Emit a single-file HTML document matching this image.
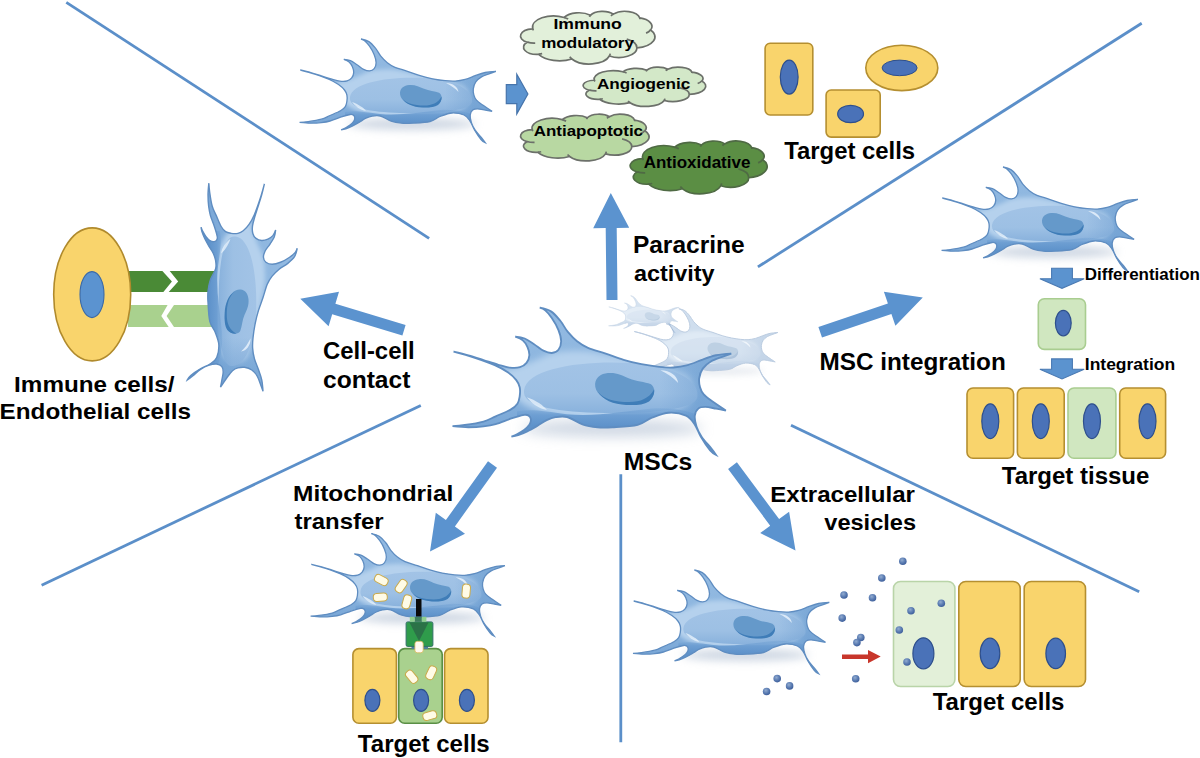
<!DOCTYPE html>
<html><head><meta charset="utf-8"><style>html,body{margin:0;padding:0;background:#fff;overflow:hidden}svg{display:block}</style></head>
<body><svg width="1200" height="758" viewBox="0 0 1200 758">
<defs><filter id="blur6" x="-50%" y="-200%" width="200%" height="500%"><feGaussianBlur stdDeviation="6"/></filter><filter id="desat"><feColorMatrix type="saturate" values="0.85"/></filter><filter id="blur5" x="-50%" y="-300%" width="200%" height="700%"><feGaussianBlur stdDeviation="4.5"/></filter><filter id="blur2" x="-50%" y="-50%" width="200%" height="200%"><feGaussianBlur stdDeviation="1.5"/></filter><linearGradient id="bg2" gradientUnits="userSpaceOnUse" x1="0" y1="104" x2="0" y2="122"><stop offset="0" stop-color="#8ab3dd" stop-opacity="0"/><stop offset="0.6" stop-color="#6d9ed2"/><stop offset="1" stop-color="#5f93cb"/></linearGradient><linearGradient id="ig2" gradientUnits="userSpaceOnUse" x1="0" y1="78" x2="0" y2="114"><stop offset="0" stop-color="#a2c3e6"/><stop offset="0.6" stop-color="#9dc0e4"/><stop offset="1" stop-color="#88b1dc"/></linearGradient><linearGradient id="rg" gradientUnits="userSpaceOnUse" x1="445" y1="0" x2="475" y2="0"><stop offset="0" stop-color="#6396cc" stop-opacity="0"/><stop offset="1" stop-color="#6396cc" stop-opacity="0.4"/></linearGradient><clipPath id="cclip"><path d="M300.3,70.0 C300.3,70.0 307.3,71.6 310.8,72.6 C314.3,73.6 317.9,74.8 321.4,75.9 C324.9,77.0 328.8,78.3 331.9,79.2 C335.0,80.1 337.4,80.9 339.9,81.2 C342.4,81.5 345.1,81.5 347.1,80.9 C349.1,80.4 350.6,79.3 351.7,77.9 C352.8,76.5 353.6,74.5 353.7,72.6 C353.8,70.7 353.2,68.5 352.4,66.7 C351.6,64.9 350.5,63.2 349.1,62.0 C347.7,60.8 343.8,59.4 343.8,59.4 C343.8,59.4 348.2,59.8 350.4,60.7 C352.6,61.6 354.8,63.3 357.0,64.7 C359.2,66.1 361.5,68.3 363.6,69.3 C365.7,70.3 367.7,71.0 369.5,70.9 C371.3,70.8 373.1,70.0 374.2,68.6 C375.3,67.2 376.1,65.0 376.1,62.7 C376.1,60.4 375.3,57.5 374.2,54.8 C373.1,52.0 371.1,48.5 369.5,46.2 C367.9,43.9 366.3,42.1 364.9,40.9 C363.5,39.7 361.0,39.0 361.0,39.0 C361.0,39.0 366.5,40.1 368.9,41.6 C371.3,43.1 373.5,45.8 375.5,48.2 C377.5,50.6 378.8,53.7 380.8,56.1 C382.8,58.5 384.9,60.8 387.3,62.7 C389.7,64.6 391.6,65.9 395.0,67.3 C398.4,68.7 403.3,69.9 407.5,71.3 C411.7,72.7 415.9,74.5 420.1,75.7 C424.3,77.0 428.4,78.0 432.6,78.8 C436.8,79.6 441.3,80.3 445.1,80.7 C448.9,81.1 451.9,81.3 455.2,81.1 C458.5,80.9 461.9,80.3 465.2,79.4 C468.5,78.5 471.9,76.9 475.2,75.7 C478.5,74.5 481.8,73.2 485.2,72.5 C488.6,71.8 495.9,71.3 495.9,71.3 C495.9,71.3 491.4,72.9 489.0,73.8 C486.6,74.7 483.7,75.6 481.5,76.9 C479.3,78.2 477.2,79.9 475.8,81.9 C474.4,83.9 473.6,86.6 473.3,88.8 C473.0,91.0 473.4,93.2 473.9,95.1 C474.4,97.0 475.0,98.4 476.5,100.1 C478.0,101.8 480.1,103.2 482.7,105.1 C485.3,107.0 492.1,111.4 492.1,111.4 C492.1,111.4 487.6,110.5 485.2,110.1 C482.8,109.7 479.8,108.9 477.7,108.9 C475.6,108.9 473.9,109.0 472.7,110.1 C471.4,111.1 470.4,113.1 470.2,115.2 C470.0,117.3 470.6,120.2 471.4,122.7 C472.2,125.2 473.5,127.7 475.2,130.2 C476.9,132.7 479.8,135.6 481.5,137.7 C483.2,139.8 485.2,142.7 485.2,142.7 C485.2,142.7 482.8,141.6 481.0,139.5 C479.2,137.4 476.3,133.1 474.5,130.0 C472.7,126.9 471.8,123.5 470.0,121.0 C468.2,118.5 467.0,116.3 464.0,115.0 C461.0,113.7 456.0,112.8 452.0,113.0 C448.0,113.2 443.7,115.1 440.0,116.5 C436.3,117.9 434.6,120.4 430.0,121.5 C425.4,122.6 416.9,122.9 412.2,123.2 C407.5,123.5 405.2,123.6 401.7,123.2 C398.2,122.8 394.7,122.3 391.1,121.1 C387.5,119.9 383.5,116.8 380.3,116.0 C377.1,115.2 374.6,115.7 372.2,116.1 C369.8,116.5 368.1,117.2 365.9,118.2 C363.7,119.2 361.3,121.1 359.0,122.4 C356.7,123.7 354.4,125.0 352.2,126.1 C350.0,127.2 347.6,128.2 345.8,128.8 C344.0,129.4 341.1,129.8 341.1,129.8 C341.1,129.8 343.8,128.8 345.3,128.0 C346.8,127.2 348.6,126.2 350.0,125.1 C351.4,124.0 352.9,122.6 353.7,121.4 C354.5,120.2 354.9,118.8 354.8,117.7 C354.7,116.6 354.0,115.5 353.2,115.0 C352.4,114.5 352.1,114.1 350.0,114.5 C347.9,114.9 343.8,116.1 340.5,117.2 C337.2,118.3 333.2,120.1 330.0,121.0 C326.8,121.9 324.6,122.2 321.4,122.6 C318.2,123.0 314.4,123.2 310.8,123.2 C307.2,123.2 299.6,122.4 299.6,122.4 C299.6,122.4 304.6,122.1 308.2,121.6 C311.8,121.1 317.8,120.2 321.4,119.2 C325.0,118.2 326.8,116.9 330.0,115.5 C333.2,114.1 337.9,112.3 340.5,110.8 C343.1,109.3 344.2,108.2 345.3,106.6 C346.4,105.0 346.6,103.2 346.9,101.3 C347.2,99.4 347.3,96.9 346.9,95.0 C346.5,93.1 345.9,91.8 344.5,90.0 C343.1,88.2 341.0,86.2 338.5,84.5 C336.0,82.8 333.2,81.2 329.3,79.5 C325.4,77.8 319.6,75.8 314.8,74.2 C310.0,72.6 300.3,70.0 300.3,70.0Z"/></clipPath><filter id="soft3" x="-20%" y="-20%" width="140%" height="140%"><feGaussianBlur stdDeviation="2.2"/></filter><linearGradient id="cg" gradientUnits="userSpaceOnUse" x1="0" y1="40" x2="0" y2="142"><stop offset="0" stop-color="#93bae2"/><stop offset="0.5" stop-color="#8cb5de"/><stop offset="1" stop-color="#6f9fd3"/></linearGradient></defs><rect width="1200" height="758" fill="#fff"/><line x1="66.3" y1="2.3" x2="429.1" y2="238.3" stroke="#5b8fc9" stroke-width="2.8"/><line x1="757.9" y1="266.9" x2="1141.7" y2="23.2" stroke="#5b8fc9" stroke-width="2.8"/><line x1="41.6" y1="585.3" x2="420.8" y2="405.4" stroke="#5b8fc9" stroke-width="2.8"/><line x1="620.8" y1="474.2" x2="620.8" y2="742.3" stroke="#5b8fc9" stroke-width="2.8"/><line x1="791" y1="425.2" x2="1139.2" y2="591.7" stroke="#5b8fc9" stroke-width="2.8"/><g transform="translate(300,70) scale(1.0) translate(-300,-70)" opacity="1.0"><ellipse cx="412" cy="124" rx="64" ry="6" fill="#9fb0c8" opacity="0.5" filter="url(#blur5)"/><g><path d="M300.3,70.0 C300.3,70.0 307.3,71.6 310.8,72.6 C314.3,73.6 317.9,74.8 321.4,75.9 C324.9,77.0 328.8,78.3 331.9,79.2 C335.0,80.1 337.4,80.9 339.9,81.2 C342.4,81.5 345.1,81.5 347.1,80.9 C349.1,80.4 350.6,79.3 351.7,77.9 C352.8,76.5 353.6,74.5 353.7,72.6 C353.8,70.7 353.2,68.5 352.4,66.7 C351.6,64.9 350.5,63.2 349.1,62.0 C347.7,60.8 343.8,59.4 343.8,59.4 C343.8,59.4 348.2,59.8 350.4,60.7 C352.6,61.6 354.8,63.3 357.0,64.7 C359.2,66.1 361.5,68.3 363.6,69.3 C365.7,70.3 367.7,71.0 369.5,70.9 C371.3,70.8 373.1,70.0 374.2,68.6 C375.3,67.2 376.1,65.0 376.1,62.7 C376.1,60.4 375.3,57.5 374.2,54.8 C373.1,52.0 371.1,48.5 369.5,46.2 C367.9,43.9 366.3,42.1 364.9,40.9 C363.5,39.7 361.0,39.0 361.0,39.0 C361.0,39.0 366.5,40.1 368.9,41.6 C371.3,43.1 373.5,45.8 375.5,48.2 C377.5,50.6 378.8,53.7 380.8,56.1 C382.8,58.5 384.9,60.8 387.3,62.7 C389.7,64.6 391.6,65.9 395.0,67.3 C398.4,68.7 403.3,69.9 407.5,71.3 C411.7,72.7 415.9,74.5 420.1,75.7 C424.3,77.0 428.4,78.0 432.6,78.8 C436.8,79.6 441.3,80.3 445.1,80.7 C448.9,81.1 451.9,81.3 455.2,81.1 C458.5,80.9 461.9,80.3 465.2,79.4 C468.5,78.5 471.9,76.9 475.2,75.7 C478.5,74.5 481.8,73.2 485.2,72.5 C488.6,71.8 495.9,71.3 495.9,71.3 C495.9,71.3 491.4,72.9 489.0,73.8 C486.6,74.7 483.7,75.6 481.5,76.9 C479.3,78.2 477.2,79.9 475.8,81.9 C474.4,83.9 473.6,86.6 473.3,88.8 C473.0,91.0 473.4,93.2 473.9,95.1 C474.4,97.0 475.0,98.4 476.5,100.1 C478.0,101.8 480.1,103.2 482.7,105.1 C485.3,107.0 492.1,111.4 492.1,111.4 C492.1,111.4 487.6,110.5 485.2,110.1 C482.8,109.7 479.8,108.9 477.7,108.9 C475.6,108.9 473.9,109.0 472.7,110.1 C471.4,111.1 470.4,113.1 470.2,115.2 C470.0,117.3 470.6,120.2 471.4,122.7 C472.2,125.2 473.5,127.7 475.2,130.2 C476.9,132.7 479.8,135.6 481.5,137.7 C483.2,139.8 485.2,142.7 485.2,142.7 C485.2,142.7 482.8,141.6 481.0,139.5 C479.2,137.4 476.3,133.1 474.5,130.0 C472.7,126.9 471.8,123.5 470.0,121.0 C468.2,118.5 467.0,116.3 464.0,115.0 C461.0,113.7 456.0,112.8 452.0,113.0 C448.0,113.2 443.7,115.1 440.0,116.5 C436.3,117.9 434.6,120.4 430.0,121.5 C425.4,122.6 416.9,122.9 412.2,123.2 C407.5,123.5 405.2,123.6 401.7,123.2 C398.2,122.8 394.7,122.3 391.1,121.1 C387.5,119.9 383.5,116.8 380.3,116.0 C377.1,115.2 374.6,115.7 372.2,116.1 C369.8,116.5 368.1,117.2 365.9,118.2 C363.7,119.2 361.3,121.1 359.0,122.4 C356.7,123.7 354.4,125.0 352.2,126.1 C350.0,127.2 347.6,128.2 345.8,128.8 C344.0,129.4 341.1,129.8 341.1,129.8 C341.1,129.8 343.8,128.8 345.3,128.0 C346.8,127.2 348.6,126.2 350.0,125.1 C351.4,124.0 352.9,122.6 353.7,121.4 C354.5,120.2 354.9,118.8 354.8,117.7 C354.7,116.6 354.0,115.5 353.2,115.0 C352.4,114.5 352.1,114.1 350.0,114.5 C347.9,114.9 343.8,116.1 340.5,117.2 C337.2,118.3 333.2,120.1 330.0,121.0 C326.8,121.9 324.6,122.2 321.4,122.6 C318.2,123.0 314.4,123.2 310.8,123.2 C307.2,123.2 299.6,122.4 299.6,122.4 C299.6,122.4 304.6,122.1 308.2,121.6 C311.8,121.1 317.8,120.2 321.4,119.2 C325.0,118.2 326.8,116.9 330.0,115.5 C333.2,114.1 337.9,112.3 340.5,110.8 C343.1,109.3 344.2,108.2 345.3,106.6 C346.4,105.0 346.6,103.2 346.9,101.3 C347.2,99.4 347.3,96.9 346.9,95.0 C346.5,93.1 345.9,91.8 344.5,90.0 C343.1,88.2 341.0,86.2 338.5,84.5 C336.0,82.8 333.2,81.2 329.3,79.5 C325.4,77.8 319.6,75.8 314.8,74.2 C310.0,72.6 300.3,70.0 300.3,70.0Z" fill="url(#cg)"/><g clip-path="url(#cclip)"><path d="M336,83 C348,81 358,76 368,71.5 C378,69 392,68.5 402,71 C422,75 445,80 462,84.5 C472,89 471,101 465,108 C450,114 430,118 400,118 C375,117 356,112 348,106 C342,99 333,90 336,83Z" fill="#b5d1ed" filter="url(#soft3)"/><path d="M350,97 C352,82 390,76 425,78 C455,80 474,90 472,102 C470,112 430,114 400,113 C370,112 348,108 350,97Z" fill="url(#ig2)"/><path d="M345,112 C355,110 365,112 380,114 C400,116 420,112 440,110 C455,109 470,112 480,118 L480,135 L345,135Z" fill="url(#bg2)"/><rect x="440" y="60" width="60" height="90" fill="url(#rg)"/><path d="M446,83 C453,83 458,87 458.5,92 C455.5,88.5 451,85.5 446,83Z" fill="#e6f1fb" opacity="0.85"/><path d="M352,102 C358,104 364,108 366,111 C360,110 355,106 352,102Z" fill="#e6f1fb" opacity="0.8"/></g><path d="M300.3,70.0 C300.3,70.0 307.3,71.6 310.8,72.6 C314.3,73.6 317.9,74.8 321.4,75.9 C324.9,77.0 328.8,78.3 331.9,79.2 C335.0,80.1 337.4,80.9 339.9,81.2 C342.4,81.5 345.1,81.5 347.1,80.9 C349.1,80.4 350.6,79.3 351.7,77.9 C352.8,76.5 353.6,74.5 353.7,72.6 C353.8,70.7 353.2,68.5 352.4,66.7 C351.6,64.9 350.5,63.2 349.1,62.0 C347.7,60.8 343.8,59.4 343.8,59.4 C343.8,59.4 348.2,59.8 350.4,60.7 C352.6,61.6 354.8,63.3 357.0,64.7 C359.2,66.1 361.5,68.3 363.6,69.3 C365.7,70.3 367.7,71.0 369.5,70.9 C371.3,70.8 373.1,70.0 374.2,68.6 C375.3,67.2 376.1,65.0 376.1,62.7 C376.1,60.4 375.3,57.5 374.2,54.8 C373.1,52.0 371.1,48.5 369.5,46.2 C367.9,43.9 366.3,42.1 364.9,40.9 C363.5,39.7 361.0,39.0 361.0,39.0 C361.0,39.0 366.5,40.1 368.9,41.6 C371.3,43.1 373.5,45.8 375.5,48.2 C377.5,50.6 378.8,53.7 380.8,56.1 C382.8,58.5 384.9,60.8 387.3,62.7 C389.7,64.6 391.6,65.9 395.0,67.3 C398.4,68.7 403.3,69.9 407.5,71.3 C411.7,72.7 415.9,74.5 420.1,75.7 C424.3,77.0 428.4,78.0 432.6,78.8 C436.8,79.6 441.3,80.3 445.1,80.7 C448.9,81.1 451.9,81.3 455.2,81.1 C458.5,80.9 461.9,80.3 465.2,79.4 C468.5,78.5 471.9,76.9 475.2,75.7 C478.5,74.5 481.8,73.2 485.2,72.5 C488.6,71.8 495.9,71.3 495.9,71.3 C495.9,71.3 491.4,72.9 489.0,73.8 C486.6,74.7 483.7,75.6 481.5,76.9 C479.3,78.2 477.2,79.9 475.8,81.9 C474.4,83.9 473.6,86.6 473.3,88.8 C473.0,91.0 473.4,93.2 473.9,95.1 C474.4,97.0 475.0,98.4 476.5,100.1 C478.0,101.8 480.1,103.2 482.7,105.1 C485.3,107.0 492.1,111.4 492.1,111.4 C492.1,111.4 487.6,110.5 485.2,110.1 C482.8,109.7 479.8,108.9 477.7,108.9 C475.6,108.9 473.9,109.0 472.7,110.1 C471.4,111.1 470.4,113.1 470.2,115.2 C470.0,117.3 470.6,120.2 471.4,122.7 C472.2,125.2 473.5,127.7 475.2,130.2 C476.9,132.7 479.8,135.6 481.5,137.7 C483.2,139.8 485.2,142.7 485.2,142.7 C485.2,142.7 482.8,141.6 481.0,139.5 C479.2,137.4 476.3,133.1 474.5,130.0 C472.7,126.9 471.8,123.5 470.0,121.0 C468.2,118.5 467.0,116.3 464.0,115.0 C461.0,113.7 456.0,112.8 452.0,113.0 C448.0,113.2 443.7,115.1 440.0,116.5 C436.3,117.9 434.6,120.4 430.0,121.5 C425.4,122.6 416.9,122.9 412.2,123.2 C407.5,123.5 405.2,123.6 401.7,123.2 C398.2,122.8 394.7,122.3 391.1,121.1 C387.5,119.9 383.5,116.8 380.3,116.0 C377.1,115.2 374.6,115.7 372.2,116.1 C369.8,116.5 368.1,117.2 365.9,118.2 C363.7,119.2 361.3,121.1 359.0,122.4 C356.7,123.7 354.4,125.0 352.2,126.1 C350.0,127.2 347.6,128.2 345.8,128.8 C344.0,129.4 341.1,129.8 341.1,129.8 C341.1,129.8 343.8,128.8 345.3,128.0 C346.8,127.2 348.6,126.2 350.0,125.1 C351.4,124.0 352.9,122.6 353.7,121.4 C354.5,120.2 354.9,118.8 354.8,117.7 C354.7,116.6 354.0,115.5 353.2,115.0 C352.4,114.5 352.1,114.1 350.0,114.5 C347.9,114.9 343.8,116.1 340.5,117.2 C337.2,118.3 333.2,120.1 330.0,121.0 C326.8,121.9 324.6,122.2 321.4,122.6 C318.2,123.0 314.4,123.2 310.8,123.2 C307.2,123.2 299.6,122.4 299.6,122.4 C299.6,122.4 304.6,122.1 308.2,121.6 C311.8,121.1 317.8,120.2 321.4,119.2 C325.0,118.2 326.8,116.9 330.0,115.5 C333.2,114.1 337.9,112.3 340.5,110.8 C343.1,109.3 344.2,108.2 345.3,106.6 C346.4,105.0 346.6,103.2 346.9,101.3 C347.2,99.4 347.3,96.9 346.9,95.0 C346.5,93.1 345.9,91.8 344.5,90.0 C343.1,88.2 341.0,86.2 338.5,84.5 C336.0,82.8 333.2,81.2 329.3,79.5 C325.4,77.8 319.6,75.8 314.8,74.2 C310.0,72.6 300.3,70.0 300.3,70.0Z" fill="none" stroke="#5f8dc1" stroke-width="1.3"/><path d="M400,92.6 C400.5,88 404,85.5 409,85 C415,84.5 419,86.5 424,88.8 C429,91 435,91 439,92.8 C442,94.5 442.5,99 440,102.5 C436.5,106.5 430,107.5 424,107.2 C416,106.8 408,104.5 403.5,100.5 C401,98.3 399.8,95.5 400,92.6Z" fill="#6599ca"/><path d="M402,98 C406,103.5 414,105.5 424,105.5 C432,105.5 438,103 441.6,96.5 C442,100 440.5,103 438,105 C434,107.5 428,107.8 422,107.5 C413,107 405,104 402,98Z" fill="#3f7db8"/></g></g><g transform="translate(942,198) scale(1.0) translate(-300,-70)" opacity="1.0"><ellipse cx="412" cy="124" rx="64" ry="6" fill="#9fb0c8" opacity="0.5" filter="url(#blur5)"/><g><path d="M300.3,70.0 C300.3,70.0 307.3,71.6 310.8,72.6 C314.3,73.6 317.9,74.8 321.4,75.9 C324.9,77.0 328.8,78.3 331.9,79.2 C335.0,80.1 337.4,80.9 339.9,81.2 C342.4,81.5 345.1,81.5 347.1,80.9 C349.1,80.4 350.6,79.3 351.7,77.9 C352.8,76.5 353.6,74.5 353.7,72.6 C353.8,70.7 353.2,68.5 352.4,66.7 C351.6,64.9 350.5,63.2 349.1,62.0 C347.7,60.8 343.8,59.4 343.8,59.4 C343.8,59.4 348.2,59.8 350.4,60.7 C352.6,61.6 354.8,63.3 357.0,64.7 C359.2,66.1 361.5,68.3 363.6,69.3 C365.7,70.3 367.7,71.0 369.5,70.9 C371.3,70.8 373.1,70.0 374.2,68.6 C375.3,67.2 376.1,65.0 376.1,62.7 C376.1,60.4 375.3,57.5 374.2,54.8 C373.1,52.0 371.1,48.5 369.5,46.2 C367.9,43.9 366.3,42.1 364.9,40.9 C363.5,39.7 361.0,39.0 361.0,39.0 C361.0,39.0 366.5,40.1 368.9,41.6 C371.3,43.1 373.5,45.8 375.5,48.2 C377.5,50.6 378.8,53.7 380.8,56.1 C382.8,58.5 384.9,60.8 387.3,62.7 C389.7,64.6 391.6,65.9 395.0,67.3 C398.4,68.7 403.3,69.9 407.5,71.3 C411.7,72.7 415.9,74.5 420.1,75.7 C424.3,77.0 428.4,78.0 432.6,78.8 C436.8,79.6 441.3,80.3 445.1,80.7 C448.9,81.1 451.9,81.3 455.2,81.1 C458.5,80.9 461.9,80.3 465.2,79.4 C468.5,78.5 471.9,76.9 475.2,75.7 C478.5,74.5 481.8,73.2 485.2,72.5 C488.6,71.8 495.9,71.3 495.9,71.3 C495.9,71.3 491.4,72.9 489.0,73.8 C486.6,74.7 483.7,75.6 481.5,76.9 C479.3,78.2 477.2,79.9 475.8,81.9 C474.4,83.9 473.6,86.6 473.3,88.8 C473.0,91.0 473.4,93.2 473.9,95.1 C474.4,97.0 475.0,98.4 476.5,100.1 C478.0,101.8 480.1,103.2 482.7,105.1 C485.3,107.0 492.1,111.4 492.1,111.4 C492.1,111.4 487.6,110.5 485.2,110.1 C482.8,109.7 479.8,108.9 477.7,108.9 C475.6,108.9 473.9,109.0 472.7,110.1 C471.4,111.1 470.4,113.1 470.2,115.2 C470.0,117.3 470.6,120.2 471.4,122.7 C472.2,125.2 473.5,127.7 475.2,130.2 C476.9,132.7 479.8,135.6 481.5,137.7 C483.2,139.8 485.2,142.7 485.2,142.7 C485.2,142.7 482.8,141.6 481.0,139.5 C479.2,137.4 476.3,133.1 474.5,130.0 C472.7,126.9 471.8,123.5 470.0,121.0 C468.2,118.5 467.0,116.3 464.0,115.0 C461.0,113.7 456.0,112.8 452.0,113.0 C448.0,113.2 443.7,115.1 440.0,116.5 C436.3,117.9 434.6,120.4 430.0,121.5 C425.4,122.6 416.9,122.9 412.2,123.2 C407.5,123.5 405.2,123.6 401.7,123.2 C398.2,122.8 394.7,122.3 391.1,121.1 C387.5,119.9 383.5,116.8 380.3,116.0 C377.1,115.2 374.6,115.7 372.2,116.1 C369.8,116.5 368.1,117.2 365.9,118.2 C363.7,119.2 361.3,121.1 359.0,122.4 C356.7,123.7 354.4,125.0 352.2,126.1 C350.0,127.2 347.6,128.2 345.8,128.8 C344.0,129.4 341.1,129.8 341.1,129.8 C341.1,129.8 343.8,128.8 345.3,128.0 C346.8,127.2 348.6,126.2 350.0,125.1 C351.4,124.0 352.9,122.6 353.7,121.4 C354.5,120.2 354.9,118.8 354.8,117.7 C354.7,116.6 354.0,115.5 353.2,115.0 C352.4,114.5 352.1,114.1 350.0,114.5 C347.9,114.9 343.8,116.1 340.5,117.2 C337.2,118.3 333.2,120.1 330.0,121.0 C326.8,121.9 324.6,122.2 321.4,122.6 C318.2,123.0 314.4,123.2 310.8,123.2 C307.2,123.2 299.6,122.4 299.6,122.4 C299.6,122.4 304.6,122.1 308.2,121.6 C311.8,121.1 317.8,120.2 321.4,119.2 C325.0,118.2 326.8,116.9 330.0,115.5 C333.2,114.1 337.9,112.3 340.5,110.8 C343.1,109.3 344.2,108.2 345.3,106.6 C346.4,105.0 346.6,103.2 346.9,101.3 C347.2,99.4 347.3,96.9 346.9,95.0 C346.5,93.1 345.9,91.8 344.5,90.0 C343.1,88.2 341.0,86.2 338.5,84.5 C336.0,82.8 333.2,81.2 329.3,79.5 C325.4,77.8 319.6,75.8 314.8,74.2 C310.0,72.6 300.3,70.0 300.3,70.0Z" fill="url(#cg)"/><g clip-path="url(#cclip)"><path d="M336,83 C348,81 358,76 368,71.5 C378,69 392,68.5 402,71 C422,75 445,80 462,84.5 C472,89 471,101 465,108 C450,114 430,118 400,118 C375,117 356,112 348,106 C342,99 333,90 336,83Z" fill="#b5d1ed" filter="url(#soft3)"/><path d="M350,97 C352,82 390,76 425,78 C455,80 474,90 472,102 C470,112 430,114 400,113 C370,112 348,108 350,97Z" fill="url(#ig2)"/><path d="M345,112 C355,110 365,112 380,114 C400,116 420,112 440,110 C455,109 470,112 480,118 L480,135 L345,135Z" fill="url(#bg2)"/><rect x="440" y="60" width="60" height="90" fill="url(#rg)"/><path d="M446,83 C453,83 458,87 458.5,92 C455.5,88.5 451,85.5 446,83Z" fill="#e6f1fb" opacity="0.85"/><path d="M352,102 C358,104 364,108 366,111 C360,110 355,106 352,102Z" fill="#e6f1fb" opacity="0.8"/></g><path d="M300.3,70.0 C300.3,70.0 307.3,71.6 310.8,72.6 C314.3,73.6 317.9,74.8 321.4,75.9 C324.9,77.0 328.8,78.3 331.9,79.2 C335.0,80.1 337.4,80.9 339.9,81.2 C342.4,81.5 345.1,81.5 347.1,80.9 C349.1,80.4 350.6,79.3 351.7,77.9 C352.8,76.5 353.6,74.5 353.7,72.6 C353.8,70.7 353.2,68.5 352.4,66.7 C351.6,64.9 350.5,63.2 349.1,62.0 C347.7,60.8 343.8,59.4 343.8,59.4 C343.8,59.4 348.2,59.8 350.4,60.7 C352.6,61.6 354.8,63.3 357.0,64.7 C359.2,66.1 361.5,68.3 363.6,69.3 C365.7,70.3 367.7,71.0 369.5,70.9 C371.3,70.8 373.1,70.0 374.2,68.6 C375.3,67.2 376.1,65.0 376.1,62.7 C376.1,60.4 375.3,57.5 374.2,54.8 C373.1,52.0 371.1,48.5 369.5,46.2 C367.9,43.9 366.3,42.1 364.9,40.9 C363.5,39.7 361.0,39.0 361.0,39.0 C361.0,39.0 366.5,40.1 368.9,41.6 C371.3,43.1 373.5,45.8 375.5,48.2 C377.5,50.6 378.8,53.7 380.8,56.1 C382.8,58.5 384.9,60.8 387.3,62.7 C389.7,64.6 391.6,65.9 395.0,67.3 C398.4,68.7 403.3,69.9 407.5,71.3 C411.7,72.7 415.9,74.5 420.1,75.7 C424.3,77.0 428.4,78.0 432.6,78.8 C436.8,79.6 441.3,80.3 445.1,80.7 C448.9,81.1 451.9,81.3 455.2,81.1 C458.5,80.9 461.9,80.3 465.2,79.4 C468.5,78.5 471.9,76.9 475.2,75.7 C478.5,74.5 481.8,73.2 485.2,72.5 C488.6,71.8 495.9,71.3 495.9,71.3 C495.9,71.3 491.4,72.9 489.0,73.8 C486.6,74.7 483.7,75.6 481.5,76.9 C479.3,78.2 477.2,79.9 475.8,81.9 C474.4,83.9 473.6,86.6 473.3,88.8 C473.0,91.0 473.4,93.2 473.9,95.1 C474.4,97.0 475.0,98.4 476.5,100.1 C478.0,101.8 480.1,103.2 482.7,105.1 C485.3,107.0 492.1,111.4 492.1,111.4 C492.1,111.4 487.6,110.5 485.2,110.1 C482.8,109.7 479.8,108.9 477.7,108.9 C475.6,108.9 473.9,109.0 472.7,110.1 C471.4,111.1 470.4,113.1 470.2,115.2 C470.0,117.3 470.6,120.2 471.4,122.7 C472.2,125.2 473.5,127.7 475.2,130.2 C476.9,132.7 479.8,135.6 481.5,137.7 C483.2,139.8 485.2,142.7 485.2,142.7 C485.2,142.7 482.8,141.6 481.0,139.5 C479.2,137.4 476.3,133.1 474.5,130.0 C472.7,126.9 471.8,123.5 470.0,121.0 C468.2,118.5 467.0,116.3 464.0,115.0 C461.0,113.7 456.0,112.8 452.0,113.0 C448.0,113.2 443.7,115.1 440.0,116.5 C436.3,117.9 434.6,120.4 430.0,121.5 C425.4,122.6 416.9,122.9 412.2,123.2 C407.5,123.5 405.2,123.6 401.7,123.2 C398.2,122.8 394.7,122.3 391.1,121.1 C387.5,119.9 383.5,116.8 380.3,116.0 C377.1,115.2 374.6,115.7 372.2,116.1 C369.8,116.5 368.1,117.2 365.9,118.2 C363.7,119.2 361.3,121.1 359.0,122.4 C356.7,123.7 354.4,125.0 352.2,126.1 C350.0,127.2 347.6,128.2 345.8,128.8 C344.0,129.4 341.1,129.8 341.1,129.8 C341.1,129.8 343.8,128.8 345.3,128.0 C346.8,127.2 348.6,126.2 350.0,125.1 C351.4,124.0 352.9,122.6 353.7,121.4 C354.5,120.2 354.9,118.8 354.8,117.7 C354.7,116.6 354.0,115.5 353.2,115.0 C352.4,114.5 352.1,114.1 350.0,114.5 C347.9,114.9 343.8,116.1 340.5,117.2 C337.2,118.3 333.2,120.1 330.0,121.0 C326.8,121.9 324.6,122.2 321.4,122.6 C318.2,123.0 314.4,123.2 310.8,123.2 C307.2,123.2 299.6,122.4 299.6,122.4 C299.6,122.4 304.6,122.1 308.2,121.6 C311.8,121.1 317.8,120.2 321.4,119.2 C325.0,118.2 326.8,116.9 330.0,115.5 C333.2,114.1 337.9,112.3 340.5,110.8 C343.1,109.3 344.2,108.2 345.3,106.6 C346.4,105.0 346.6,103.2 346.9,101.3 C347.2,99.4 347.3,96.9 346.9,95.0 C346.5,93.1 345.9,91.8 344.5,90.0 C343.1,88.2 341.0,86.2 338.5,84.5 C336.0,82.8 333.2,81.2 329.3,79.5 C325.4,77.8 319.6,75.8 314.8,74.2 C310.0,72.6 300.3,70.0 300.3,70.0Z" fill="none" stroke="#5f8dc1" stroke-width="1.3"/><path d="M400,92.6 C400.5,88 404,85.5 409,85 C415,84.5 419,86.5 424,88.8 C429,91 435,91 439,92.8 C442,94.5 442.5,99 440,102.5 C436.5,106.5 430,107.5 424,107.2 C416,106.8 408,104.5 403.5,100.5 C401,98.3 399.8,95.5 400,92.6Z" fill="#6599ca"/><path d="M402,98 C406,103.5 414,105.5 424,105.5 C432,105.5 438,103 441.6,96.5 C442,100 440.5,103 438,105 C434,107.5 428,107.8 422,107.5 C413,107 405,104 402,98Z" fill="#3f7db8"/></g></g><g transform="translate(633.4,601) scale(1.0) translate(-300,-70)" opacity="1.0"><ellipse cx="412" cy="124" rx="64" ry="6" fill="#9fb0c8" opacity="0.5" filter="url(#blur5)"/><g><path d="M300.3,70.0 C300.3,70.0 307.3,71.6 310.8,72.6 C314.3,73.6 317.9,74.8 321.4,75.9 C324.9,77.0 328.8,78.3 331.9,79.2 C335.0,80.1 337.4,80.9 339.9,81.2 C342.4,81.5 345.1,81.5 347.1,80.9 C349.1,80.4 350.6,79.3 351.7,77.9 C352.8,76.5 353.6,74.5 353.7,72.6 C353.8,70.7 353.2,68.5 352.4,66.7 C351.6,64.9 350.5,63.2 349.1,62.0 C347.7,60.8 343.8,59.4 343.8,59.4 C343.8,59.4 348.2,59.8 350.4,60.7 C352.6,61.6 354.8,63.3 357.0,64.7 C359.2,66.1 361.5,68.3 363.6,69.3 C365.7,70.3 367.7,71.0 369.5,70.9 C371.3,70.8 373.1,70.0 374.2,68.6 C375.3,67.2 376.1,65.0 376.1,62.7 C376.1,60.4 375.3,57.5 374.2,54.8 C373.1,52.0 371.1,48.5 369.5,46.2 C367.9,43.9 366.3,42.1 364.9,40.9 C363.5,39.7 361.0,39.0 361.0,39.0 C361.0,39.0 366.5,40.1 368.9,41.6 C371.3,43.1 373.5,45.8 375.5,48.2 C377.5,50.6 378.8,53.7 380.8,56.1 C382.8,58.5 384.9,60.8 387.3,62.7 C389.7,64.6 391.6,65.9 395.0,67.3 C398.4,68.7 403.3,69.9 407.5,71.3 C411.7,72.7 415.9,74.5 420.1,75.7 C424.3,77.0 428.4,78.0 432.6,78.8 C436.8,79.6 441.3,80.3 445.1,80.7 C448.9,81.1 451.9,81.3 455.2,81.1 C458.5,80.9 461.9,80.3 465.2,79.4 C468.5,78.5 471.9,76.9 475.2,75.7 C478.5,74.5 481.8,73.2 485.2,72.5 C488.6,71.8 495.9,71.3 495.9,71.3 C495.9,71.3 491.4,72.9 489.0,73.8 C486.6,74.7 483.7,75.6 481.5,76.9 C479.3,78.2 477.2,79.9 475.8,81.9 C474.4,83.9 473.6,86.6 473.3,88.8 C473.0,91.0 473.4,93.2 473.9,95.1 C474.4,97.0 475.0,98.4 476.5,100.1 C478.0,101.8 480.1,103.2 482.7,105.1 C485.3,107.0 492.1,111.4 492.1,111.4 C492.1,111.4 487.6,110.5 485.2,110.1 C482.8,109.7 479.8,108.9 477.7,108.9 C475.6,108.9 473.9,109.0 472.7,110.1 C471.4,111.1 470.4,113.1 470.2,115.2 C470.0,117.3 470.6,120.2 471.4,122.7 C472.2,125.2 473.5,127.7 475.2,130.2 C476.9,132.7 479.8,135.6 481.5,137.7 C483.2,139.8 485.2,142.7 485.2,142.7 C485.2,142.7 482.8,141.6 481.0,139.5 C479.2,137.4 476.3,133.1 474.5,130.0 C472.7,126.9 471.8,123.5 470.0,121.0 C468.2,118.5 467.0,116.3 464.0,115.0 C461.0,113.7 456.0,112.8 452.0,113.0 C448.0,113.2 443.7,115.1 440.0,116.5 C436.3,117.9 434.6,120.4 430.0,121.5 C425.4,122.6 416.9,122.9 412.2,123.2 C407.5,123.5 405.2,123.6 401.7,123.2 C398.2,122.8 394.7,122.3 391.1,121.1 C387.5,119.9 383.5,116.8 380.3,116.0 C377.1,115.2 374.6,115.7 372.2,116.1 C369.8,116.5 368.1,117.2 365.9,118.2 C363.7,119.2 361.3,121.1 359.0,122.4 C356.7,123.7 354.4,125.0 352.2,126.1 C350.0,127.2 347.6,128.2 345.8,128.8 C344.0,129.4 341.1,129.8 341.1,129.8 C341.1,129.8 343.8,128.8 345.3,128.0 C346.8,127.2 348.6,126.2 350.0,125.1 C351.4,124.0 352.9,122.6 353.7,121.4 C354.5,120.2 354.9,118.8 354.8,117.7 C354.7,116.6 354.0,115.5 353.2,115.0 C352.4,114.5 352.1,114.1 350.0,114.5 C347.9,114.9 343.8,116.1 340.5,117.2 C337.2,118.3 333.2,120.1 330.0,121.0 C326.8,121.9 324.6,122.2 321.4,122.6 C318.2,123.0 314.4,123.2 310.8,123.2 C307.2,123.2 299.6,122.4 299.6,122.4 C299.6,122.4 304.6,122.1 308.2,121.6 C311.8,121.1 317.8,120.2 321.4,119.2 C325.0,118.2 326.8,116.9 330.0,115.5 C333.2,114.1 337.9,112.3 340.5,110.8 C343.1,109.3 344.2,108.2 345.3,106.6 C346.4,105.0 346.6,103.2 346.9,101.3 C347.2,99.4 347.3,96.9 346.9,95.0 C346.5,93.1 345.9,91.8 344.5,90.0 C343.1,88.2 341.0,86.2 338.5,84.5 C336.0,82.8 333.2,81.2 329.3,79.5 C325.4,77.8 319.6,75.8 314.8,74.2 C310.0,72.6 300.3,70.0 300.3,70.0Z" fill="url(#cg)"/><g clip-path="url(#cclip)"><path d="M336,83 C348,81 358,76 368,71.5 C378,69 392,68.5 402,71 C422,75 445,80 462,84.5 C472,89 471,101 465,108 C450,114 430,118 400,118 C375,117 356,112 348,106 C342,99 333,90 336,83Z" fill="#b5d1ed" filter="url(#soft3)"/><path d="M350,97 C352,82 390,76 425,78 C455,80 474,90 472,102 C470,112 430,114 400,113 C370,112 348,108 350,97Z" fill="url(#ig2)"/><path d="M345,112 C355,110 365,112 380,114 C400,116 420,112 440,110 C455,109 470,112 480,118 L480,135 L345,135Z" fill="url(#bg2)"/><rect x="440" y="60" width="60" height="90" fill="url(#rg)"/><path d="M446,83 C453,83 458,87 458.5,92 C455.5,88.5 451,85.5 446,83Z" fill="#e6f1fb" opacity="0.85"/><path d="M352,102 C358,104 364,108 366,111 C360,110 355,106 352,102Z" fill="#e6f1fb" opacity="0.8"/></g><path d="M300.3,70.0 C300.3,70.0 307.3,71.6 310.8,72.6 C314.3,73.6 317.9,74.8 321.4,75.9 C324.9,77.0 328.8,78.3 331.9,79.2 C335.0,80.1 337.4,80.9 339.9,81.2 C342.4,81.5 345.1,81.5 347.1,80.9 C349.1,80.4 350.6,79.3 351.7,77.9 C352.8,76.5 353.6,74.5 353.7,72.6 C353.8,70.7 353.2,68.5 352.4,66.7 C351.6,64.9 350.5,63.2 349.1,62.0 C347.7,60.8 343.8,59.4 343.8,59.4 C343.8,59.4 348.2,59.8 350.4,60.7 C352.6,61.6 354.8,63.3 357.0,64.7 C359.2,66.1 361.5,68.3 363.6,69.3 C365.7,70.3 367.7,71.0 369.5,70.9 C371.3,70.8 373.1,70.0 374.2,68.6 C375.3,67.2 376.1,65.0 376.1,62.7 C376.1,60.4 375.3,57.5 374.2,54.8 C373.1,52.0 371.1,48.5 369.5,46.2 C367.9,43.9 366.3,42.1 364.9,40.9 C363.5,39.7 361.0,39.0 361.0,39.0 C361.0,39.0 366.5,40.1 368.9,41.6 C371.3,43.1 373.5,45.8 375.5,48.2 C377.5,50.6 378.8,53.7 380.8,56.1 C382.8,58.5 384.9,60.8 387.3,62.7 C389.7,64.6 391.6,65.9 395.0,67.3 C398.4,68.7 403.3,69.9 407.5,71.3 C411.7,72.7 415.9,74.5 420.1,75.7 C424.3,77.0 428.4,78.0 432.6,78.8 C436.8,79.6 441.3,80.3 445.1,80.7 C448.9,81.1 451.9,81.3 455.2,81.1 C458.5,80.9 461.9,80.3 465.2,79.4 C468.5,78.5 471.9,76.9 475.2,75.7 C478.5,74.5 481.8,73.2 485.2,72.5 C488.6,71.8 495.9,71.3 495.9,71.3 C495.9,71.3 491.4,72.9 489.0,73.8 C486.6,74.7 483.7,75.6 481.5,76.9 C479.3,78.2 477.2,79.9 475.8,81.9 C474.4,83.9 473.6,86.6 473.3,88.8 C473.0,91.0 473.4,93.2 473.9,95.1 C474.4,97.0 475.0,98.4 476.5,100.1 C478.0,101.8 480.1,103.2 482.7,105.1 C485.3,107.0 492.1,111.4 492.1,111.4 C492.1,111.4 487.6,110.5 485.2,110.1 C482.8,109.7 479.8,108.9 477.7,108.9 C475.6,108.9 473.9,109.0 472.7,110.1 C471.4,111.1 470.4,113.1 470.2,115.2 C470.0,117.3 470.6,120.2 471.4,122.7 C472.2,125.2 473.5,127.7 475.2,130.2 C476.9,132.7 479.8,135.6 481.5,137.7 C483.2,139.8 485.2,142.7 485.2,142.7 C485.2,142.7 482.8,141.6 481.0,139.5 C479.2,137.4 476.3,133.1 474.5,130.0 C472.7,126.9 471.8,123.5 470.0,121.0 C468.2,118.5 467.0,116.3 464.0,115.0 C461.0,113.7 456.0,112.8 452.0,113.0 C448.0,113.2 443.7,115.1 440.0,116.5 C436.3,117.9 434.6,120.4 430.0,121.5 C425.4,122.6 416.9,122.9 412.2,123.2 C407.5,123.5 405.2,123.6 401.7,123.2 C398.2,122.8 394.7,122.3 391.1,121.1 C387.5,119.9 383.5,116.8 380.3,116.0 C377.1,115.2 374.6,115.7 372.2,116.1 C369.8,116.5 368.1,117.2 365.9,118.2 C363.7,119.2 361.3,121.1 359.0,122.4 C356.7,123.7 354.4,125.0 352.2,126.1 C350.0,127.2 347.6,128.2 345.8,128.8 C344.0,129.4 341.1,129.8 341.1,129.8 C341.1,129.8 343.8,128.8 345.3,128.0 C346.8,127.2 348.6,126.2 350.0,125.1 C351.4,124.0 352.9,122.6 353.7,121.4 C354.5,120.2 354.9,118.8 354.8,117.7 C354.7,116.6 354.0,115.5 353.2,115.0 C352.4,114.5 352.1,114.1 350.0,114.5 C347.9,114.9 343.8,116.1 340.5,117.2 C337.2,118.3 333.2,120.1 330.0,121.0 C326.8,121.9 324.6,122.2 321.4,122.6 C318.2,123.0 314.4,123.2 310.8,123.2 C307.2,123.2 299.6,122.4 299.6,122.4 C299.6,122.4 304.6,122.1 308.2,121.6 C311.8,121.1 317.8,120.2 321.4,119.2 C325.0,118.2 326.8,116.9 330.0,115.5 C333.2,114.1 337.9,112.3 340.5,110.8 C343.1,109.3 344.2,108.2 345.3,106.6 C346.4,105.0 346.6,103.2 346.9,101.3 C347.2,99.4 347.3,96.9 346.9,95.0 C346.5,93.1 345.9,91.8 344.5,90.0 C343.1,88.2 341.0,86.2 338.5,84.5 C336.0,82.8 333.2,81.2 329.3,79.5 C325.4,77.8 319.6,75.8 314.8,74.2 C310.0,72.6 300.3,70.0 300.3,70.0Z" fill="none" stroke="#5f8dc1" stroke-width="1.3"/><path d="M400,92.6 C400.5,88 404,85.5 409,85 C415,84.5 419,86.5 424,88.8 C429,91 435,91 439,92.8 C442,94.5 442.5,99 440,102.5 C436.5,106.5 430,107.5 424,107.2 C416,106.8 408,104.5 403.5,100.5 C401,98.3 399.8,95.5 400,92.6Z" fill="#6599ca"/><path d="M402,98 C406,103.5 414,105.5 424,105.5 C432,105.5 438,103 441.6,96.5 C442,100 440.5,103 438,105 C434,107.5 428,107.8 422,107.5 C413,107 405,104 402,98Z" fill="#3f7db8"/></g></g><g transform="translate(311,564.3) scale(0.99) translate(-300,-70)" opacity="1.0"><ellipse cx="412" cy="124" rx="64" ry="6" fill="#9fb0c8" opacity="0.5" filter="url(#blur5)"/><g><path d="M300.3,70.0 C300.3,70.0 307.3,71.6 310.8,72.6 C314.3,73.6 317.9,74.8 321.4,75.9 C324.9,77.0 328.8,78.3 331.9,79.2 C335.0,80.1 337.4,80.9 339.9,81.2 C342.4,81.5 345.1,81.5 347.1,80.9 C349.1,80.4 350.6,79.3 351.7,77.9 C352.8,76.5 353.6,74.5 353.7,72.6 C353.8,70.7 353.2,68.5 352.4,66.7 C351.6,64.9 350.5,63.2 349.1,62.0 C347.7,60.8 343.8,59.4 343.8,59.4 C343.8,59.4 348.2,59.8 350.4,60.7 C352.6,61.6 354.8,63.3 357.0,64.7 C359.2,66.1 361.5,68.3 363.6,69.3 C365.7,70.3 367.7,71.0 369.5,70.9 C371.3,70.8 373.1,70.0 374.2,68.6 C375.3,67.2 376.1,65.0 376.1,62.7 C376.1,60.4 375.3,57.5 374.2,54.8 C373.1,52.0 371.1,48.5 369.5,46.2 C367.9,43.9 366.3,42.1 364.9,40.9 C363.5,39.7 361.0,39.0 361.0,39.0 C361.0,39.0 366.5,40.1 368.9,41.6 C371.3,43.1 373.5,45.8 375.5,48.2 C377.5,50.6 378.8,53.7 380.8,56.1 C382.8,58.5 384.9,60.8 387.3,62.7 C389.7,64.6 391.6,65.9 395.0,67.3 C398.4,68.7 403.3,69.9 407.5,71.3 C411.7,72.7 415.9,74.5 420.1,75.7 C424.3,77.0 428.4,78.0 432.6,78.8 C436.8,79.6 441.3,80.3 445.1,80.7 C448.9,81.1 451.9,81.3 455.2,81.1 C458.5,80.9 461.9,80.3 465.2,79.4 C468.5,78.5 471.9,76.9 475.2,75.7 C478.5,74.5 481.8,73.2 485.2,72.5 C488.6,71.8 495.9,71.3 495.9,71.3 C495.9,71.3 491.4,72.9 489.0,73.8 C486.6,74.7 483.7,75.6 481.5,76.9 C479.3,78.2 477.2,79.9 475.8,81.9 C474.4,83.9 473.6,86.6 473.3,88.8 C473.0,91.0 473.4,93.2 473.9,95.1 C474.4,97.0 475.0,98.4 476.5,100.1 C478.0,101.8 480.1,103.2 482.7,105.1 C485.3,107.0 492.1,111.4 492.1,111.4 C492.1,111.4 487.6,110.5 485.2,110.1 C482.8,109.7 479.8,108.9 477.7,108.9 C475.6,108.9 473.9,109.0 472.7,110.1 C471.4,111.1 470.4,113.1 470.2,115.2 C470.0,117.3 470.6,120.2 471.4,122.7 C472.2,125.2 473.5,127.7 475.2,130.2 C476.9,132.7 479.8,135.6 481.5,137.7 C483.2,139.8 485.2,142.7 485.2,142.7 C485.2,142.7 482.8,141.6 481.0,139.5 C479.2,137.4 476.3,133.1 474.5,130.0 C472.7,126.9 471.8,123.5 470.0,121.0 C468.2,118.5 467.0,116.3 464.0,115.0 C461.0,113.7 456.0,112.8 452.0,113.0 C448.0,113.2 443.7,115.1 440.0,116.5 C436.3,117.9 434.6,120.4 430.0,121.5 C425.4,122.6 416.9,122.9 412.2,123.2 C407.5,123.5 405.2,123.6 401.7,123.2 C398.2,122.8 394.7,122.3 391.1,121.1 C387.5,119.9 383.5,116.8 380.3,116.0 C377.1,115.2 374.6,115.7 372.2,116.1 C369.8,116.5 368.1,117.2 365.9,118.2 C363.7,119.2 361.3,121.1 359.0,122.4 C356.7,123.7 354.4,125.0 352.2,126.1 C350.0,127.2 347.6,128.2 345.8,128.8 C344.0,129.4 341.1,129.8 341.1,129.8 C341.1,129.8 343.8,128.8 345.3,128.0 C346.8,127.2 348.6,126.2 350.0,125.1 C351.4,124.0 352.9,122.6 353.7,121.4 C354.5,120.2 354.9,118.8 354.8,117.7 C354.7,116.6 354.0,115.5 353.2,115.0 C352.4,114.5 352.1,114.1 350.0,114.5 C347.9,114.9 343.8,116.1 340.5,117.2 C337.2,118.3 333.2,120.1 330.0,121.0 C326.8,121.9 324.6,122.2 321.4,122.6 C318.2,123.0 314.4,123.2 310.8,123.2 C307.2,123.2 299.6,122.4 299.6,122.4 C299.6,122.4 304.6,122.1 308.2,121.6 C311.8,121.1 317.8,120.2 321.4,119.2 C325.0,118.2 326.8,116.9 330.0,115.5 C333.2,114.1 337.9,112.3 340.5,110.8 C343.1,109.3 344.2,108.2 345.3,106.6 C346.4,105.0 346.6,103.2 346.9,101.3 C347.2,99.4 347.3,96.9 346.9,95.0 C346.5,93.1 345.9,91.8 344.5,90.0 C343.1,88.2 341.0,86.2 338.5,84.5 C336.0,82.8 333.2,81.2 329.3,79.5 C325.4,77.8 319.6,75.8 314.8,74.2 C310.0,72.6 300.3,70.0 300.3,70.0Z" fill="url(#cg)"/><g clip-path="url(#cclip)"><path d="M336,83 C348,81 358,76 368,71.5 C378,69 392,68.5 402,71 C422,75 445,80 462,84.5 C472,89 471,101 465,108 C450,114 430,118 400,118 C375,117 356,112 348,106 C342,99 333,90 336,83Z" fill="#b5d1ed" filter="url(#soft3)"/><path d="M350,97 C352,82 390,76 425,78 C455,80 474,90 472,102 C470,112 430,114 400,113 C370,112 348,108 350,97Z" fill="url(#ig2)"/><path d="M345,112 C355,110 365,112 380,114 C400,116 420,112 440,110 C455,109 470,112 480,118 L480,135 L345,135Z" fill="url(#bg2)"/><rect x="440" y="60" width="60" height="90" fill="url(#rg)"/><path d="M446,83 C453,83 458,87 458.5,92 C455.5,88.5 451,85.5 446,83Z" fill="#e6f1fb" opacity="0.85"/><path d="M352,102 C358,104 364,108 366,111 C360,110 355,106 352,102Z" fill="#e6f1fb" opacity="0.8"/></g><path d="M300.3,70.0 C300.3,70.0 307.3,71.6 310.8,72.6 C314.3,73.6 317.9,74.8 321.4,75.9 C324.9,77.0 328.8,78.3 331.9,79.2 C335.0,80.1 337.4,80.9 339.9,81.2 C342.4,81.5 345.1,81.5 347.1,80.9 C349.1,80.4 350.6,79.3 351.7,77.9 C352.8,76.5 353.6,74.5 353.7,72.6 C353.8,70.7 353.2,68.5 352.4,66.7 C351.6,64.9 350.5,63.2 349.1,62.0 C347.7,60.8 343.8,59.4 343.8,59.4 C343.8,59.4 348.2,59.8 350.4,60.7 C352.6,61.6 354.8,63.3 357.0,64.7 C359.2,66.1 361.5,68.3 363.6,69.3 C365.7,70.3 367.7,71.0 369.5,70.9 C371.3,70.8 373.1,70.0 374.2,68.6 C375.3,67.2 376.1,65.0 376.1,62.7 C376.1,60.4 375.3,57.5 374.2,54.8 C373.1,52.0 371.1,48.5 369.5,46.2 C367.9,43.9 366.3,42.1 364.9,40.9 C363.5,39.7 361.0,39.0 361.0,39.0 C361.0,39.0 366.5,40.1 368.9,41.6 C371.3,43.1 373.5,45.8 375.5,48.2 C377.5,50.6 378.8,53.7 380.8,56.1 C382.8,58.5 384.9,60.8 387.3,62.7 C389.7,64.6 391.6,65.9 395.0,67.3 C398.4,68.7 403.3,69.9 407.5,71.3 C411.7,72.7 415.9,74.5 420.1,75.7 C424.3,77.0 428.4,78.0 432.6,78.8 C436.8,79.6 441.3,80.3 445.1,80.7 C448.9,81.1 451.9,81.3 455.2,81.1 C458.5,80.9 461.9,80.3 465.2,79.4 C468.5,78.5 471.9,76.9 475.2,75.7 C478.5,74.5 481.8,73.2 485.2,72.5 C488.6,71.8 495.9,71.3 495.9,71.3 C495.9,71.3 491.4,72.9 489.0,73.8 C486.6,74.7 483.7,75.6 481.5,76.9 C479.3,78.2 477.2,79.9 475.8,81.9 C474.4,83.9 473.6,86.6 473.3,88.8 C473.0,91.0 473.4,93.2 473.9,95.1 C474.4,97.0 475.0,98.4 476.5,100.1 C478.0,101.8 480.1,103.2 482.7,105.1 C485.3,107.0 492.1,111.4 492.1,111.4 C492.1,111.4 487.6,110.5 485.2,110.1 C482.8,109.7 479.8,108.9 477.7,108.9 C475.6,108.9 473.9,109.0 472.7,110.1 C471.4,111.1 470.4,113.1 470.2,115.2 C470.0,117.3 470.6,120.2 471.4,122.7 C472.2,125.2 473.5,127.7 475.2,130.2 C476.9,132.7 479.8,135.6 481.5,137.7 C483.2,139.8 485.2,142.7 485.2,142.7 C485.2,142.7 482.8,141.6 481.0,139.5 C479.2,137.4 476.3,133.1 474.5,130.0 C472.7,126.9 471.8,123.5 470.0,121.0 C468.2,118.5 467.0,116.3 464.0,115.0 C461.0,113.7 456.0,112.8 452.0,113.0 C448.0,113.2 443.7,115.1 440.0,116.5 C436.3,117.9 434.6,120.4 430.0,121.5 C425.4,122.6 416.9,122.9 412.2,123.2 C407.5,123.5 405.2,123.6 401.7,123.2 C398.2,122.8 394.7,122.3 391.1,121.1 C387.5,119.9 383.5,116.8 380.3,116.0 C377.1,115.2 374.6,115.7 372.2,116.1 C369.8,116.5 368.1,117.2 365.9,118.2 C363.7,119.2 361.3,121.1 359.0,122.4 C356.7,123.7 354.4,125.0 352.2,126.1 C350.0,127.2 347.6,128.2 345.8,128.8 C344.0,129.4 341.1,129.8 341.1,129.8 C341.1,129.8 343.8,128.8 345.3,128.0 C346.8,127.2 348.6,126.2 350.0,125.1 C351.4,124.0 352.9,122.6 353.7,121.4 C354.5,120.2 354.9,118.8 354.8,117.7 C354.7,116.6 354.0,115.5 353.2,115.0 C352.4,114.5 352.1,114.1 350.0,114.5 C347.9,114.9 343.8,116.1 340.5,117.2 C337.2,118.3 333.2,120.1 330.0,121.0 C326.8,121.9 324.6,122.2 321.4,122.6 C318.2,123.0 314.4,123.2 310.8,123.2 C307.2,123.2 299.6,122.4 299.6,122.4 C299.6,122.4 304.6,122.1 308.2,121.6 C311.8,121.1 317.8,120.2 321.4,119.2 C325.0,118.2 326.8,116.9 330.0,115.5 C333.2,114.1 337.9,112.3 340.5,110.8 C343.1,109.3 344.2,108.2 345.3,106.6 C346.4,105.0 346.6,103.2 346.9,101.3 C347.2,99.4 347.3,96.9 346.9,95.0 C346.5,93.1 345.9,91.8 344.5,90.0 C343.1,88.2 341.0,86.2 338.5,84.5 C336.0,82.8 333.2,81.2 329.3,79.5 C325.4,77.8 319.6,75.8 314.8,74.2 C310.0,72.6 300.3,70.0 300.3,70.0Z" fill="none" stroke="#5f8dc1" stroke-width="1.3"/><path d="M400,92.6 C400.5,88 404,85.5 409,85 C415,84.5 419,86.5 424,88.8 C429,91 435,91 439,92.8 C442,94.5 442.5,99 440,102.5 C436.5,106.5 430,107.5 424,107.2 C416,106.8 408,104.5 403.5,100.5 C401,98.3 399.8,95.5 400,92.6Z" fill="#6599ca"/><path d="M402,98 C406,103.5 414,105.5 424,105.5 C432,105.5 438,103 441.6,96.5 C442,100 440.5,103 438,105 C434,107.5 428,107.8 422,107.5 C413,107 405,104 402,98Z" fill="#3f7db8"/></g></g><g fill="#fffbe6" stroke="#c9a94a" stroke-width="1"><rect x="-7" y="-4" width="14" height="8" rx="3.5" transform="translate(381.3,580) rotate(28)"/><rect x="-7" y="-4" width="14" height="8" rx="3.5" transform="translate(401.2,586.1) rotate(-55)"/><rect x="-7" y="-4" width="14" height="8" rx="3.5" transform="translate(380.3,597.2) rotate(-5)"/><rect x="-7" y="-4" width="14" height="8" rx="3.5" transform="translate(406.8,601.8) rotate(-75)"/><rect x="-7" y="-4" width="14" height="8" rx="3.5" transform="translate(466.2,591.1) rotate(-85)"/></g><g transform="translate(608.7,306.9) scale(0.36) translate(-300,-70)" opacity="0.38" filter="url(#desat)"><g><path d="M300.3,70.0 C300.3,70.0 307.3,71.6 310.8,72.6 C314.3,73.6 317.9,74.8 321.4,75.9 C324.9,77.0 328.8,78.3 331.9,79.2 C335.0,80.1 337.4,80.9 339.9,81.2 C342.4,81.5 345.1,81.5 347.1,80.9 C349.1,80.4 350.6,79.3 351.7,77.9 C352.8,76.5 353.6,74.5 353.7,72.6 C353.8,70.7 353.2,68.5 352.4,66.7 C351.6,64.9 350.5,63.2 349.1,62.0 C347.7,60.8 343.8,59.4 343.8,59.4 C343.8,59.4 348.2,59.8 350.4,60.7 C352.6,61.6 354.8,63.3 357.0,64.7 C359.2,66.1 361.5,68.3 363.6,69.3 C365.7,70.3 367.7,71.0 369.5,70.9 C371.3,70.8 373.1,70.0 374.2,68.6 C375.3,67.2 376.1,65.0 376.1,62.7 C376.1,60.4 375.3,57.5 374.2,54.8 C373.1,52.0 371.1,48.5 369.5,46.2 C367.9,43.9 366.3,42.1 364.9,40.9 C363.5,39.7 361.0,39.0 361.0,39.0 C361.0,39.0 366.5,40.1 368.9,41.6 C371.3,43.1 373.5,45.8 375.5,48.2 C377.5,50.6 378.8,53.7 380.8,56.1 C382.8,58.5 384.9,60.8 387.3,62.7 C389.7,64.6 391.6,65.9 395.0,67.3 C398.4,68.7 403.3,69.9 407.5,71.3 C411.7,72.7 415.9,74.5 420.1,75.7 C424.3,77.0 428.4,78.0 432.6,78.8 C436.8,79.6 441.3,80.3 445.1,80.7 C448.9,81.1 451.9,81.3 455.2,81.1 C458.5,80.9 461.9,80.3 465.2,79.4 C468.5,78.5 471.9,76.9 475.2,75.7 C478.5,74.5 481.8,73.2 485.2,72.5 C488.6,71.8 495.9,71.3 495.9,71.3 C495.9,71.3 491.4,72.9 489.0,73.8 C486.6,74.7 483.7,75.6 481.5,76.9 C479.3,78.2 477.2,79.9 475.8,81.9 C474.4,83.9 473.6,86.6 473.3,88.8 C473.0,91.0 473.4,93.2 473.9,95.1 C474.4,97.0 475.0,98.4 476.5,100.1 C478.0,101.8 480.1,103.2 482.7,105.1 C485.3,107.0 492.1,111.4 492.1,111.4 C492.1,111.4 487.6,110.5 485.2,110.1 C482.8,109.7 479.8,108.9 477.7,108.9 C475.6,108.9 473.9,109.0 472.7,110.1 C471.4,111.1 470.4,113.1 470.2,115.2 C470.0,117.3 470.6,120.2 471.4,122.7 C472.2,125.2 473.5,127.7 475.2,130.2 C476.9,132.7 479.8,135.6 481.5,137.7 C483.2,139.8 485.2,142.7 485.2,142.7 C485.2,142.7 482.8,141.6 481.0,139.5 C479.2,137.4 476.3,133.1 474.5,130.0 C472.7,126.9 471.8,123.5 470.0,121.0 C468.2,118.5 467.0,116.3 464.0,115.0 C461.0,113.7 456.0,112.8 452.0,113.0 C448.0,113.2 443.7,115.1 440.0,116.5 C436.3,117.9 434.6,120.4 430.0,121.5 C425.4,122.6 416.9,122.9 412.2,123.2 C407.5,123.5 405.2,123.6 401.7,123.2 C398.2,122.8 394.7,122.3 391.1,121.1 C387.5,119.9 383.5,116.8 380.3,116.0 C377.1,115.2 374.6,115.7 372.2,116.1 C369.8,116.5 368.1,117.2 365.9,118.2 C363.7,119.2 361.3,121.1 359.0,122.4 C356.7,123.7 354.4,125.0 352.2,126.1 C350.0,127.2 347.6,128.2 345.8,128.8 C344.0,129.4 341.1,129.8 341.1,129.8 C341.1,129.8 343.8,128.8 345.3,128.0 C346.8,127.2 348.6,126.2 350.0,125.1 C351.4,124.0 352.9,122.6 353.7,121.4 C354.5,120.2 354.9,118.8 354.8,117.7 C354.7,116.6 354.0,115.5 353.2,115.0 C352.4,114.5 352.1,114.1 350.0,114.5 C347.9,114.9 343.8,116.1 340.5,117.2 C337.2,118.3 333.2,120.1 330.0,121.0 C326.8,121.9 324.6,122.2 321.4,122.6 C318.2,123.0 314.4,123.2 310.8,123.2 C307.2,123.2 299.6,122.4 299.6,122.4 C299.6,122.4 304.6,122.1 308.2,121.6 C311.8,121.1 317.8,120.2 321.4,119.2 C325.0,118.2 326.8,116.9 330.0,115.5 C333.2,114.1 337.9,112.3 340.5,110.8 C343.1,109.3 344.2,108.2 345.3,106.6 C346.4,105.0 346.6,103.2 346.9,101.3 C347.2,99.4 347.3,96.9 346.9,95.0 C346.5,93.1 345.9,91.8 344.5,90.0 C343.1,88.2 341.0,86.2 338.5,84.5 C336.0,82.8 333.2,81.2 329.3,79.5 C325.4,77.8 319.6,75.8 314.8,74.2 C310.0,72.6 300.3,70.0 300.3,70.0Z" fill="url(#cg)"/><g clip-path="url(#cclip)"><path d="M336,83 C348,81 358,76 368,71.5 C378,69 392,68.5 402,71 C422,75 445,80 462,84.5 C472,89 471,101 465,108 C450,114 430,118 400,118 C375,117 356,112 348,106 C342,99 333,90 336,83Z" fill="#b5d1ed" filter="url(#soft3)"/><path d="M350,97 C352,82 390,76 425,78 C455,80 474,90 472,102 C470,112 430,114 400,113 C370,112 348,108 350,97Z" fill="url(#ig2)"/><path d="M345,112 C355,110 365,112 380,114 C400,116 420,112 440,110 C455,109 470,112 480,118 L480,135 L345,135Z" fill="url(#bg2)"/><rect x="440" y="60" width="60" height="90" fill="url(#rg)"/><path d="M446,83 C453,83 458,87 458.5,92 C455.5,88.5 451,85.5 446,83Z" fill="#e6f1fb" opacity="0.85"/><path d="M352,102 C358,104 364,108 366,111 C360,110 355,106 352,102Z" fill="#e6f1fb" opacity="0.8"/></g><path d="M300.3,70.0 C300.3,70.0 307.3,71.6 310.8,72.6 C314.3,73.6 317.9,74.8 321.4,75.9 C324.9,77.0 328.8,78.3 331.9,79.2 C335.0,80.1 337.4,80.9 339.9,81.2 C342.4,81.5 345.1,81.5 347.1,80.9 C349.1,80.4 350.6,79.3 351.7,77.9 C352.8,76.5 353.6,74.5 353.7,72.6 C353.8,70.7 353.2,68.5 352.4,66.7 C351.6,64.9 350.5,63.2 349.1,62.0 C347.7,60.8 343.8,59.4 343.8,59.4 C343.8,59.4 348.2,59.8 350.4,60.7 C352.6,61.6 354.8,63.3 357.0,64.7 C359.2,66.1 361.5,68.3 363.6,69.3 C365.7,70.3 367.7,71.0 369.5,70.9 C371.3,70.8 373.1,70.0 374.2,68.6 C375.3,67.2 376.1,65.0 376.1,62.7 C376.1,60.4 375.3,57.5 374.2,54.8 C373.1,52.0 371.1,48.5 369.5,46.2 C367.9,43.9 366.3,42.1 364.9,40.9 C363.5,39.7 361.0,39.0 361.0,39.0 C361.0,39.0 366.5,40.1 368.9,41.6 C371.3,43.1 373.5,45.8 375.5,48.2 C377.5,50.6 378.8,53.7 380.8,56.1 C382.8,58.5 384.9,60.8 387.3,62.7 C389.7,64.6 391.6,65.9 395.0,67.3 C398.4,68.7 403.3,69.9 407.5,71.3 C411.7,72.7 415.9,74.5 420.1,75.7 C424.3,77.0 428.4,78.0 432.6,78.8 C436.8,79.6 441.3,80.3 445.1,80.7 C448.9,81.1 451.9,81.3 455.2,81.1 C458.5,80.9 461.9,80.3 465.2,79.4 C468.5,78.5 471.9,76.9 475.2,75.7 C478.5,74.5 481.8,73.2 485.2,72.5 C488.6,71.8 495.9,71.3 495.9,71.3 C495.9,71.3 491.4,72.9 489.0,73.8 C486.6,74.7 483.7,75.6 481.5,76.9 C479.3,78.2 477.2,79.9 475.8,81.9 C474.4,83.9 473.6,86.6 473.3,88.8 C473.0,91.0 473.4,93.2 473.9,95.1 C474.4,97.0 475.0,98.4 476.5,100.1 C478.0,101.8 480.1,103.2 482.7,105.1 C485.3,107.0 492.1,111.4 492.1,111.4 C492.1,111.4 487.6,110.5 485.2,110.1 C482.8,109.7 479.8,108.9 477.7,108.9 C475.6,108.9 473.9,109.0 472.7,110.1 C471.4,111.1 470.4,113.1 470.2,115.2 C470.0,117.3 470.6,120.2 471.4,122.7 C472.2,125.2 473.5,127.7 475.2,130.2 C476.9,132.7 479.8,135.6 481.5,137.7 C483.2,139.8 485.2,142.7 485.2,142.7 C485.2,142.7 482.8,141.6 481.0,139.5 C479.2,137.4 476.3,133.1 474.5,130.0 C472.7,126.9 471.8,123.5 470.0,121.0 C468.2,118.5 467.0,116.3 464.0,115.0 C461.0,113.7 456.0,112.8 452.0,113.0 C448.0,113.2 443.7,115.1 440.0,116.5 C436.3,117.9 434.6,120.4 430.0,121.5 C425.4,122.6 416.9,122.9 412.2,123.2 C407.5,123.5 405.2,123.6 401.7,123.2 C398.2,122.8 394.7,122.3 391.1,121.1 C387.5,119.9 383.5,116.8 380.3,116.0 C377.1,115.2 374.6,115.7 372.2,116.1 C369.8,116.5 368.1,117.2 365.9,118.2 C363.7,119.2 361.3,121.1 359.0,122.4 C356.7,123.7 354.4,125.0 352.2,126.1 C350.0,127.2 347.6,128.2 345.8,128.8 C344.0,129.4 341.1,129.8 341.1,129.8 C341.1,129.8 343.8,128.8 345.3,128.0 C346.8,127.2 348.6,126.2 350.0,125.1 C351.4,124.0 352.9,122.6 353.7,121.4 C354.5,120.2 354.9,118.8 354.8,117.7 C354.7,116.6 354.0,115.5 353.2,115.0 C352.4,114.5 352.1,114.1 350.0,114.5 C347.9,114.9 343.8,116.1 340.5,117.2 C337.2,118.3 333.2,120.1 330.0,121.0 C326.8,121.9 324.6,122.2 321.4,122.6 C318.2,123.0 314.4,123.2 310.8,123.2 C307.2,123.2 299.6,122.4 299.6,122.4 C299.6,122.4 304.6,122.1 308.2,121.6 C311.8,121.1 317.8,120.2 321.4,119.2 C325.0,118.2 326.8,116.9 330.0,115.5 C333.2,114.1 337.9,112.3 340.5,110.8 C343.1,109.3 344.2,108.2 345.3,106.6 C346.4,105.0 346.6,103.2 346.9,101.3 C347.2,99.4 347.3,96.9 346.9,95.0 C346.5,93.1 345.9,91.8 344.5,90.0 C343.1,88.2 341.0,86.2 338.5,84.5 C336.0,82.8 333.2,81.2 329.3,79.5 C325.4,77.8 319.6,75.8 314.8,74.2 C310.0,72.6 300.3,70.0 300.3,70.0Z" fill="none" stroke="#5f8dc1" stroke-width="1.3"/><path d="M400,92.6 C400.5,88 404,85.5 409,85 C415,84.5 419,86.5 424,88.8 C429,91 435,91 439,92.8 C442,94.5 442.5,99 440,102.5 C436.5,106.5 430,107.5 424,107.2 C416,106.8 408,104.5 403.5,100.5 C401,98.3 399.8,95.5 400,92.6Z" fill="#6599ca"/><path d="M402,98 C406,103.5 414,105.5 424,105.5 C432,105.5 438,103 441.6,96.5 C442,100 440.5,103 438,105 C434,107.5 428,107.8 422,107.5 C413,107 405,104 402,98Z" fill="#3f7db8"/></g></g><g transform="translate(634,331.5) scale(0.735) translate(-300,-70)" opacity="0.45" filter="url(#desat)"><ellipse cx="412" cy="124" rx="64" ry="6" fill="#9fb0c8" opacity="0.5" filter="url(#blur5)"/><g><path d="M300.3,70.0 C300.3,70.0 307.3,71.6 310.8,72.6 C314.3,73.6 317.9,74.8 321.4,75.9 C324.9,77.0 328.8,78.3 331.9,79.2 C335.0,80.1 337.4,80.9 339.9,81.2 C342.4,81.5 345.1,81.5 347.1,80.9 C349.1,80.4 350.6,79.3 351.7,77.9 C352.8,76.5 353.6,74.5 353.7,72.6 C353.8,70.7 353.2,68.5 352.4,66.7 C351.6,64.9 350.5,63.2 349.1,62.0 C347.7,60.8 343.8,59.4 343.8,59.4 C343.8,59.4 348.2,59.8 350.4,60.7 C352.6,61.6 354.8,63.3 357.0,64.7 C359.2,66.1 361.5,68.3 363.6,69.3 C365.7,70.3 367.7,71.0 369.5,70.9 C371.3,70.8 373.1,70.0 374.2,68.6 C375.3,67.2 376.1,65.0 376.1,62.7 C376.1,60.4 375.3,57.5 374.2,54.8 C373.1,52.0 371.1,48.5 369.5,46.2 C367.9,43.9 366.3,42.1 364.9,40.9 C363.5,39.7 361.0,39.0 361.0,39.0 C361.0,39.0 366.5,40.1 368.9,41.6 C371.3,43.1 373.5,45.8 375.5,48.2 C377.5,50.6 378.8,53.7 380.8,56.1 C382.8,58.5 384.9,60.8 387.3,62.7 C389.7,64.6 391.6,65.9 395.0,67.3 C398.4,68.7 403.3,69.9 407.5,71.3 C411.7,72.7 415.9,74.5 420.1,75.7 C424.3,77.0 428.4,78.0 432.6,78.8 C436.8,79.6 441.3,80.3 445.1,80.7 C448.9,81.1 451.9,81.3 455.2,81.1 C458.5,80.9 461.9,80.3 465.2,79.4 C468.5,78.5 471.9,76.9 475.2,75.7 C478.5,74.5 481.8,73.2 485.2,72.5 C488.6,71.8 495.9,71.3 495.9,71.3 C495.9,71.3 491.4,72.9 489.0,73.8 C486.6,74.7 483.7,75.6 481.5,76.9 C479.3,78.2 477.2,79.9 475.8,81.9 C474.4,83.9 473.6,86.6 473.3,88.8 C473.0,91.0 473.4,93.2 473.9,95.1 C474.4,97.0 475.0,98.4 476.5,100.1 C478.0,101.8 480.1,103.2 482.7,105.1 C485.3,107.0 492.1,111.4 492.1,111.4 C492.1,111.4 487.6,110.5 485.2,110.1 C482.8,109.7 479.8,108.9 477.7,108.9 C475.6,108.9 473.9,109.0 472.7,110.1 C471.4,111.1 470.4,113.1 470.2,115.2 C470.0,117.3 470.6,120.2 471.4,122.7 C472.2,125.2 473.5,127.7 475.2,130.2 C476.9,132.7 479.8,135.6 481.5,137.7 C483.2,139.8 485.2,142.7 485.2,142.7 C485.2,142.7 482.8,141.6 481.0,139.5 C479.2,137.4 476.3,133.1 474.5,130.0 C472.7,126.9 471.8,123.5 470.0,121.0 C468.2,118.5 467.0,116.3 464.0,115.0 C461.0,113.7 456.0,112.8 452.0,113.0 C448.0,113.2 443.7,115.1 440.0,116.5 C436.3,117.9 434.6,120.4 430.0,121.5 C425.4,122.6 416.9,122.9 412.2,123.2 C407.5,123.5 405.2,123.6 401.7,123.2 C398.2,122.8 394.7,122.3 391.1,121.1 C387.5,119.9 383.5,116.8 380.3,116.0 C377.1,115.2 374.6,115.7 372.2,116.1 C369.8,116.5 368.1,117.2 365.9,118.2 C363.7,119.2 361.3,121.1 359.0,122.4 C356.7,123.7 354.4,125.0 352.2,126.1 C350.0,127.2 347.6,128.2 345.8,128.8 C344.0,129.4 341.1,129.8 341.1,129.8 C341.1,129.8 343.8,128.8 345.3,128.0 C346.8,127.2 348.6,126.2 350.0,125.1 C351.4,124.0 352.9,122.6 353.7,121.4 C354.5,120.2 354.9,118.8 354.8,117.7 C354.7,116.6 354.0,115.5 353.2,115.0 C352.4,114.5 352.1,114.1 350.0,114.5 C347.9,114.9 343.8,116.1 340.5,117.2 C337.2,118.3 333.2,120.1 330.0,121.0 C326.8,121.9 324.6,122.2 321.4,122.6 C318.2,123.0 314.4,123.2 310.8,123.2 C307.2,123.2 299.6,122.4 299.6,122.4 C299.6,122.4 304.6,122.1 308.2,121.6 C311.8,121.1 317.8,120.2 321.4,119.2 C325.0,118.2 326.8,116.9 330.0,115.5 C333.2,114.1 337.9,112.3 340.5,110.8 C343.1,109.3 344.2,108.2 345.3,106.6 C346.4,105.0 346.6,103.2 346.9,101.3 C347.2,99.4 347.3,96.9 346.9,95.0 C346.5,93.1 345.9,91.8 344.5,90.0 C343.1,88.2 341.0,86.2 338.5,84.5 C336.0,82.8 333.2,81.2 329.3,79.5 C325.4,77.8 319.6,75.8 314.8,74.2 C310.0,72.6 300.3,70.0 300.3,70.0Z" fill="url(#cg)"/><g clip-path="url(#cclip)"><path d="M336,83 C348,81 358,76 368,71.5 C378,69 392,68.5 402,71 C422,75 445,80 462,84.5 C472,89 471,101 465,108 C450,114 430,118 400,118 C375,117 356,112 348,106 C342,99 333,90 336,83Z" fill="#b5d1ed" filter="url(#soft3)"/><path d="M350,97 C352,82 390,76 425,78 C455,80 474,90 472,102 C470,112 430,114 400,113 C370,112 348,108 350,97Z" fill="url(#ig2)"/><path d="M345,112 C355,110 365,112 380,114 C400,116 420,112 440,110 C455,109 470,112 480,118 L480,135 L345,135Z" fill="url(#bg2)"/><rect x="440" y="60" width="60" height="90" fill="url(#rg)"/><path d="M446,83 C453,83 458,87 458.5,92 C455.5,88.5 451,85.5 446,83Z" fill="#e6f1fb" opacity="0.85"/><path d="M352,102 C358,104 364,108 366,111 C360,110 355,106 352,102Z" fill="#e6f1fb" opacity="0.8"/></g><path d="M300.3,70.0 C300.3,70.0 307.3,71.6 310.8,72.6 C314.3,73.6 317.9,74.8 321.4,75.9 C324.9,77.0 328.8,78.3 331.9,79.2 C335.0,80.1 337.4,80.9 339.9,81.2 C342.4,81.5 345.1,81.5 347.1,80.9 C349.1,80.4 350.6,79.3 351.7,77.9 C352.8,76.5 353.6,74.5 353.7,72.6 C353.8,70.7 353.2,68.5 352.4,66.7 C351.6,64.9 350.5,63.2 349.1,62.0 C347.7,60.8 343.8,59.4 343.8,59.4 C343.8,59.4 348.2,59.8 350.4,60.7 C352.6,61.6 354.8,63.3 357.0,64.7 C359.2,66.1 361.5,68.3 363.6,69.3 C365.7,70.3 367.7,71.0 369.5,70.9 C371.3,70.8 373.1,70.0 374.2,68.6 C375.3,67.2 376.1,65.0 376.1,62.7 C376.1,60.4 375.3,57.5 374.2,54.8 C373.1,52.0 371.1,48.5 369.5,46.2 C367.9,43.9 366.3,42.1 364.9,40.9 C363.5,39.7 361.0,39.0 361.0,39.0 C361.0,39.0 366.5,40.1 368.9,41.6 C371.3,43.1 373.5,45.8 375.5,48.2 C377.5,50.6 378.8,53.7 380.8,56.1 C382.8,58.5 384.9,60.8 387.3,62.7 C389.7,64.6 391.6,65.9 395.0,67.3 C398.4,68.7 403.3,69.9 407.5,71.3 C411.7,72.7 415.9,74.5 420.1,75.7 C424.3,77.0 428.4,78.0 432.6,78.8 C436.8,79.6 441.3,80.3 445.1,80.7 C448.9,81.1 451.9,81.3 455.2,81.1 C458.5,80.9 461.9,80.3 465.2,79.4 C468.5,78.5 471.9,76.9 475.2,75.7 C478.5,74.5 481.8,73.2 485.2,72.5 C488.6,71.8 495.9,71.3 495.9,71.3 C495.9,71.3 491.4,72.9 489.0,73.8 C486.6,74.7 483.7,75.6 481.5,76.9 C479.3,78.2 477.2,79.9 475.8,81.9 C474.4,83.9 473.6,86.6 473.3,88.8 C473.0,91.0 473.4,93.2 473.9,95.1 C474.4,97.0 475.0,98.4 476.5,100.1 C478.0,101.8 480.1,103.2 482.7,105.1 C485.3,107.0 492.1,111.4 492.1,111.4 C492.1,111.4 487.6,110.5 485.2,110.1 C482.8,109.7 479.8,108.9 477.7,108.9 C475.6,108.9 473.9,109.0 472.7,110.1 C471.4,111.1 470.4,113.1 470.2,115.2 C470.0,117.3 470.6,120.2 471.4,122.7 C472.2,125.2 473.5,127.7 475.2,130.2 C476.9,132.7 479.8,135.6 481.5,137.7 C483.2,139.8 485.2,142.7 485.2,142.7 C485.2,142.7 482.8,141.6 481.0,139.5 C479.2,137.4 476.3,133.1 474.5,130.0 C472.7,126.9 471.8,123.5 470.0,121.0 C468.2,118.5 467.0,116.3 464.0,115.0 C461.0,113.7 456.0,112.8 452.0,113.0 C448.0,113.2 443.7,115.1 440.0,116.5 C436.3,117.9 434.6,120.4 430.0,121.5 C425.4,122.6 416.9,122.9 412.2,123.2 C407.5,123.5 405.2,123.6 401.7,123.2 C398.2,122.8 394.7,122.3 391.1,121.1 C387.5,119.9 383.5,116.8 380.3,116.0 C377.1,115.2 374.6,115.7 372.2,116.1 C369.8,116.5 368.1,117.2 365.9,118.2 C363.7,119.2 361.3,121.1 359.0,122.4 C356.7,123.7 354.4,125.0 352.2,126.1 C350.0,127.2 347.6,128.2 345.8,128.8 C344.0,129.4 341.1,129.8 341.1,129.8 C341.1,129.8 343.8,128.8 345.3,128.0 C346.8,127.2 348.6,126.2 350.0,125.1 C351.4,124.0 352.9,122.6 353.7,121.4 C354.5,120.2 354.9,118.8 354.8,117.7 C354.7,116.6 354.0,115.5 353.2,115.0 C352.4,114.5 352.1,114.1 350.0,114.5 C347.9,114.9 343.8,116.1 340.5,117.2 C337.2,118.3 333.2,120.1 330.0,121.0 C326.8,121.9 324.6,122.2 321.4,122.6 C318.2,123.0 314.4,123.2 310.8,123.2 C307.2,123.2 299.6,122.4 299.6,122.4 C299.6,122.4 304.6,122.1 308.2,121.6 C311.8,121.1 317.8,120.2 321.4,119.2 C325.0,118.2 326.8,116.9 330.0,115.5 C333.2,114.1 337.9,112.3 340.5,110.8 C343.1,109.3 344.2,108.2 345.3,106.6 C346.4,105.0 346.6,103.2 346.9,101.3 C347.2,99.4 347.3,96.9 346.9,95.0 C346.5,93.1 345.9,91.8 344.5,90.0 C343.1,88.2 341.0,86.2 338.5,84.5 C336.0,82.8 333.2,81.2 329.3,79.5 C325.4,77.8 319.6,75.8 314.8,74.2 C310.0,72.6 300.3,70.0 300.3,70.0Z" fill="none" stroke="#5f8dc1" stroke-width="1.3"/><path d="M400,92.6 C400.5,88 404,85.5 409,85 C415,84.5 419,86.5 424,88.8 C429,91 435,91 439,92.8 C442,94.5 442.5,99 440,102.5 C436.5,106.5 430,107.5 424,107.2 C416,106.8 408,104.5 403.5,100.5 C401,98.3 399.8,95.5 400,92.6Z" fill="#6599ca"/><path d="M402,98 C406,103.5 414,105.5 424,105.5 C432,105.5 438,103 441.6,96.5 C442,100 440.5,103 438,105 C434,107.5 428,107.8 422,107.5 C413,107 405,104 402,98Z" fill="#3f7db8"/></g></g><g transform="translate(453.1,351.7) scale(1.42) translate(-300,-70)" opacity="1.0"><ellipse cx="412" cy="124" rx="64" ry="6" fill="#9fb0c8" opacity="0.5" filter="url(#blur5)"/><g><path d="M300.3,70.0 C300.3,70.0 307.3,71.6 310.8,72.6 C314.3,73.6 317.9,74.8 321.4,75.9 C324.9,77.0 328.8,78.3 331.9,79.2 C335.0,80.1 337.4,80.9 339.9,81.2 C342.4,81.5 345.1,81.5 347.1,80.9 C349.1,80.4 350.6,79.3 351.7,77.9 C352.8,76.5 353.6,74.5 353.7,72.6 C353.8,70.7 353.2,68.5 352.4,66.7 C351.6,64.9 350.5,63.2 349.1,62.0 C347.7,60.8 343.8,59.4 343.8,59.4 C343.8,59.4 348.2,59.8 350.4,60.7 C352.6,61.6 354.8,63.3 357.0,64.7 C359.2,66.1 361.5,68.3 363.6,69.3 C365.7,70.3 367.7,71.0 369.5,70.9 C371.3,70.8 373.1,70.0 374.2,68.6 C375.3,67.2 376.1,65.0 376.1,62.7 C376.1,60.4 375.3,57.5 374.2,54.8 C373.1,52.0 371.1,48.5 369.5,46.2 C367.9,43.9 366.3,42.1 364.9,40.9 C363.5,39.7 361.0,39.0 361.0,39.0 C361.0,39.0 366.5,40.1 368.9,41.6 C371.3,43.1 373.5,45.8 375.5,48.2 C377.5,50.6 378.8,53.7 380.8,56.1 C382.8,58.5 384.9,60.8 387.3,62.7 C389.7,64.6 391.6,65.9 395.0,67.3 C398.4,68.7 403.3,69.9 407.5,71.3 C411.7,72.7 415.9,74.5 420.1,75.7 C424.3,77.0 428.4,78.0 432.6,78.8 C436.8,79.6 441.3,80.3 445.1,80.7 C448.9,81.1 451.9,81.3 455.2,81.1 C458.5,80.9 461.9,80.3 465.2,79.4 C468.5,78.5 471.9,76.9 475.2,75.7 C478.5,74.5 481.8,73.2 485.2,72.5 C488.6,71.8 495.9,71.3 495.9,71.3 C495.9,71.3 491.4,72.9 489.0,73.8 C486.6,74.7 483.7,75.6 481.5,76.9 C479.3,78.2 477.2,79.9 475.8,81.9 C474.4,83.9 473.6,86.6 473.3,88.8 C473.0,91.0 473.4,93.2 473.9,95.1 C474.4,97.0 475.0,98.4 476.5,100.1 C478.0,101.8 480.1,103.2 482.7,105.1 C485.3,107.0 492.1,111.4 492.1,111.4 C492.1,111.4 487.6,110.5 485.2,110.1 C482.8,109.7 479.8,108.9 477.7,108.9 C475.6,108.9 473.9,109.0 472.7,110.1 C471.4,111.1 470.4,113.1 470.2,115.2 C470.0,117.3 470.6,120.2 471.4,122.7 C472.2,125.2 473.5,127.7 475.2,130.2 C476.9,132.7 479.8,135.6 481.5,137.7 C483.2,139.8 485.2,142.7 485.2,142.7 C485.2,142.7 482.8,141.6 481.0,139.5 C479.2,137.4 476.3,133.1 474.5,130.0 C472.7,126.9 471.8,123.5 470.0,121.0 C468.2,118.5 467.0,116.3 464.0,115.0 C461.0,113.7 456.0,112.8 452.0,113.0 C448.0,113.2 443.7,115.1 440.0,116.5 C436.3,117.9 434.6,120.4 430.0,121.5 C425.4,122.6 416.9,122.9 412.2,123.2 C407.5,123.5 405.2,123.6 401.7,123.2 C398.2,122.8 394.7,122.3 391.1,121.1 C387.5,119.9 383.5,116.8 380.3,116.0 C377.1,115.2 374.6,115.7 372.2,116.1 C369.8,116.5 368.1,117.2 365.9,118.2 C363.7,119.2 361.3,121.1 359.0,122.4 C356.7,123.7 354.4,125.0 352.2,126.1 C350.0,127.2 347.6,128.2 345.8,128.8 C344.0,129.4 341.1,129.8 341.1,129.8 C341.1,129.8 343.8,128.8 345.3,128.0 C346.8,127.2 348.6,126.2 350.0,125.1 C351.4,124.0 352.9,122.6 353.7,121.4 C354.5,120.2 354.9,118.8 354.8,117.7 C354.7,116.6 354.0,115.5 353.2,115.0 C352.4,114.5 352.1,114.1 350.0,114.5 C347.9,114.9 343.8,116.1 340.5,117.2 C337.2,118.3 333.2,120.1 330.0,121.0 C326.8,121.9 324.6,122.2 321.4,122.6 C318.2,123.0 314.4,123.2 310.8,123.2 C307.2,123.2 299.6,122.4 299.6,122.4 C299.6,122.4 304.6,122.1 308.2,121.6 C311.8,121.1 317.8,120.2 321.4,119.2 C325.0,118.2 326.8,116.9 330.0,115.5 C333.2,114.1 337.9,112.3 340.5,110.8 C343.1,109.3 344.2,108.2 345.3,106.6 C346.4,105.0 346.6,103.2 346.9,101.3 C347.2,99.4 347.3,96.9 346.9,95.0 C346.5,93.1 345.9,91.8 344.5,90.0 C343.1,88.2 341.0,86.2 338.5,84.5 C336.0,82.8 333.2,81.2 329.3,79.5 C325.4,77.8 319.6,75.8 314.8,74.2 C310.0,72.6 300.3,70.0 300.3,70.0Z" fill="url(#cg)"/><g clip-path="url(#cclip)"><path d="M336,83 C348,81 358,76 368,71.5 C378,69 392,68.5 402,71 C422,75 445,80 462,84.5 C472,89 471,101 465,108 C450,114 430,118 400,118 C375,117 356,112 348,106 C342,99 333,90 336,83Z" fill="#b5d1ed" filter="url(#soft3)"/><path d="M350,97 C352,82 390,76 425,78 C455,80 474,90 472,102 C470,112 430,114 400,113 C370,112 348,108 350,97Z" fill="url(#ig2)"/><path d="M345,112 C355,110 365,112 380,114 C400,116 420,112 440,110 C455,109 470,112 480,118 L480,135 L345,135Z" fill="url(#bg2)"/><rect x="440" y="60" width="60" height="90" fill="url(#rg)"/><path d="M446,83 C453,83 458,87 458.5,92 C455.5,88.5 451,85.5 446,83Z" fill="#e6f1fb" opacity="0.85"/><path d="M352,102 C358,104 364,108 366,111 C360,110 355,106 352,102Z" fill="#e6f1fb" opacity="0.8"/></g><path d="M300.3,70.0 C300.3,70.0 307.3,71.6 310.8,72.6 C314.3,73.6 317.9,74.8 321.4,75.9 C324.9,77.0 328.8,78.3 331.9,79.2 C335.0,80.1 337.4,80.9 339.9,81.2 C342.4,81.5 345.1,81.5 347.1,80.9 C349.1,80.4 350.6,79.3 351.7,77.9 C352.8,76.5 353.6,74.5 353.7,72.6 C353.8,70.7 353.2,68.5 352.4,66.7 C351.6,64.9 350.5,63.2 349.1,62.0 C347.7,60.8 343.8,59.4 343.8,59.4 C343.8,59.4 348.2,59.8 350.4,60.7 C352.6,61.6 354.8,63.3 357.0,64.7 C359.2,66.1 361.5,68.3 363.6,69.3 C365.7,70.3 367.7,71.0 369.5,70.9 C371.3,70.8 373.1,70.0 374.2,68.6 C375.3,67.2 376.1,65.0 376.1,62.7 C376.1,60.4 375.3,57.5 374.2,54.8 C373.1,52.0 371.1,48.5 369.5,46.2 C367.9,43.9 366.3,42.1 364.9,40.9 C363.5,39.7 361.0,39.0 361.0,39.0 C361.0,39.0 366.5,40.1 368.9,41.6 C371.3,43.1 373.5,45.8 375.5,48.2 C377.5,50.6 378.8,53.7 380.8,56.1 C382.8,58.5 384.9,60.8 387.3,62.7 C389.7,64.6 391.6,65.9 395.0,67.3 C398.4,68.7 403.3,69.9 407.5,71.3 C411.7,72.7 415.9,74.5 420.1,75.7 C424.3,77.0 428.4,78.0 432.6,78.8 C436.8,79.6 441.3,80.3 445.1,80.7 C448.9,81.1 451.9,81.3 455.2,81.1 C458.5,80.9 461.9,80.3 465.2,79.4 C468.5,78.5 471.9,76.9 475.2,75.7 C478.5,74.5 481.8,73.2 485.2,72.5 C488.6,71.8 495.9,71.3 495.9,71.3 C495.9,71.3 491.4,72.9 489.0,73.8 C486.6,74.7 483.7,75.6 481.5,76.9 C479.3,78.2 477.2,79.9 475.8,81.9 C474.4,83.9 473.6,86.6 473.3,88.8 C473.0,91.0 473.4,93.2 473.9,95.1 C474.4,97.0 475.0,98.4 476.5,100.1 C478.0,101.8 480.1,103.2 482.7,105.1 C485.3,107.0 492.1,111.4 492.1,111.4 C492.1,111.4 487.6,110.5 485.2,110.1 C482.8,109.7 479.8,108.9 477.7,108.9 C475.6,108.9 473.9,109.0 472.7,110.1 C471.4,111.1 470.4,113.1 470.2,115.2 C470.0,117.3 470.6,120.2 471.4,122.7 C472.2,125.2 473.5,127.7 475.2,130.2 C476.9,132.7 479.8,135.6 481.5,137.7 C483.2,139.8 485.2,142.7 485.2,142.7 C485.2,142.7 482.8,141.6 481.0,139.5 C479.2,137.4 476.3,133.1 474.5,130.0 C472.7,126.9 471.8,123.5 470.0,121.0 C468.2,118.5 467.0,116.3 464.0,115.0 C461.0,113.7 456.0,112.8 452.0,113.0 C448.0,113.2 443.7,115.1 440.0,116.5 C436.3,117.9 434.6,120.4 430.0,121.5 C425.4,122.6 416.9,122.9 412.2,123.2 C407.5,123.5 405.2,123.6 401.7,123.2 C398.2,122.8 394.7,122.3 391.1,121.1 C387.5,119.9 383.5,116.8 380.3,116.0 C377.1,115.2 374.6,115.7 372.2,116.1 C369.8,116.5 368.1,117.2 365.9,118.2 C363.7,119.2 361.3,121.1 359.0,122.4 C356.7,123.7 354.4,125.0 352.2,126.1 C350.0,127.2 347.6,128.2 345.8,128.8 C344.0,129.4 341.1,129.8 341.1,129.8 C341.1,129.8 343.8,128.8 345.3,128.0 C346.8,127.2 348.6,126.2 350.0,125.1 C351.4,124.0 352.9,122.6 353.7,121.4 C354.5,120.2 354.9,118.8 354.8,117.7 C354.7,116.6 354.0,115.5 353.2,115.0 C352.4,114.5 352.1,114.1 350.0,114.5 C347.9,114.9 343.8,116.1 340.5,117.2 C337.2,118.3 333.2,120.1 330.0,121.0 C326.8,121.9 324.6,122.2 321.4,122.6 C318.2,123.0 314.4,123.2 310.8,123.2 C307.2,123.2 299.6,122.4 299.6,122.4 C299.6,122.4 304.6,122.1 308.2,121.6 C311.8,121.1 317.8,120.2 321.4,119.2 C325.0,118.2 326.8,116.9 330.0,115.5 C333.2,114.1 337.9,112.3 340.5,110.8 C343.1,109.3 344.2,108.2 345.3,106.6 C346.4,105.0 346.6,103.2 346.9,101.3 C347.2,99.4 347.3,96.9 346.9,95.0 C346.5,93.1 345.9,91.8 344.5,90.0 C343.1,88.2 341.0,86.2 338.5,84.5 C336.0,82.8 333.2,81.2 329.3,79.5 C325.4,77.8 319.6,75.8 314.8,74.2 C310.0,72.6 300.3,70.0 300.3,70.0Z" fill="none" stroke="#5f8dc1" stroke-width="1.3"/><path d="M400,92.6 C400.5,88 404,85.5 409,85 C415,84.5 419,86.5 424,88.8 C429,91 435,91 439,92.8 C442,94.5 442.5,99 440,102.5 C436.5,106.5 430,107.5 424,107.2 C416,106.8 408,104.5 403.5,100.5 C401,98.3 399.8,95.5 400,92.6Z" fill="#6599ca"/><path d="M402,98 C406,103.5 414,105.5 424,105.5 C432,105.5 438,103 441.6,96.5 C442,100 440.5,103 438,105 C434,107.5 428,107.8 422,107.5 C413,107 405,104 402,98Z" fill="#3f7db8"/></g></g><polygon points="128,271 162.4,271 171.9,281.5 163.4,292 128,292" fill="#4a8a36"/><polygon points="169.7,271 222,271 222,292 168.7,292 178.2,281.5" fill="#4a8a36"/><polygon points="128,305 167.6,305 161.3,316 168.7,327 128,327" fill="#a9d18e"/><polygon points="174,305 222,305 222,327 174,327 166.6,316" fill="#a9d18e"/><ellipse cx="92.2" cy="294.4" rx="38.5" ry="66.5" fill="#f9d46c" stroke="#b08a2c" stroke-width="1.6"/><ellipse cx="92" cy="294.6" rx="12" ry="23" fill="#5b93d0" stroke="#3a69a8" stroke-width="1.1"/><g transform="translate(264.4,183.6) rotate(90) scale(1.06) translate(-300,-70)" opacity="1.0"><g><path d="M300.3,70.0 C300.3,70.0 307.3,71.6 310.8,72.6 C314.3,73.6 317.9,74.8 321.4,75.9 C324.9,77.0 328.8,78.3 331.9,79.2 C335.0,80.1 337.4,80.9 339.9,81.2 C342.4,81.5 345.1,81.5 347.1,80.9 C349.1,80.4 350.6,79.3 351.7,77.9 C352.8,76.5 353.6,74.5 353.7,72.6 C353.8,70.7 353.2,68.5 352.4,66.7 C351.6,64.9 350.5,63.2 349.1,62.0 C347.7,60.8 343.8,59.4 343.8,59.4 C343.8,59.4 348.2,59.8 350.4,60.7 C352.6,61.6 354.8,63.3 357.0,64.7 C359.2,66.1 361.5,68.3 363.6,69.3 C365.7,70.3 367.7,71.0 369.5,70.9 C371.3,70.8 373.1,70.0 374.2,68.6 C375.3,67.2 376.1,65.0 376.1,62.7 C376.1,60.4 375.3,57.5 374.2,54.8 C373.1,52.0 371.1,48.5 369.5,46.2 C367.9,43.9 366.3,42.1 364.9,40.9 C363.5,39.7 361.0,39.0 361.0,39.0 C361.0,39.0 366.5,40.1 368.9,41.6 C371.3,43.1 373.5,45.8 375.5,48.2 C377.5,50.6 378.8,53.7 380.8,56.1 C382.8,58.5 384.9,60.8 387.3,62.7 C389.7,64.6 391.6,65.9 395.0,67.3 C398.4,68.7 403.3,69.9 407.5,71.3 C411.7,72.7 415.9,74.5 420.1,75.7 C424.3,77.0 428.4,78.0 432.6,78.8 C436.8,79.6 441.3,80.3 445.1,80.7 C448.9,81.1 451.9,81.3 455.2,81.1 C458.5,80.9 461.9,80.3 465.2,79.4 C468.5,78.5 471.9,76.9 475.2,75.7 C478.5,74.5 481.8,73.2 485.2,72.5 C488.6,71.8 495.9,71.3 495.9,71.3 C495.9,71.3 491.4,72.9 489.0,73.8 C486.6,74.7 483.7,75.6 481.5,76.9 C479.3,78.2 477.2,79.9 475.8,81.9 C474.4,83.9 473.6,86.6 473.3,88.8 C473.0,91.0 473.4,93.2 473.9,95.1 C474.4,97.0 475.0,98.4 476.5,100.1 C478.0,101.8 480.1,103.2 482.7,105.1 C485.3,107.0 492.1,111.4 492.1,111.4 C492.1,111.4 487.6,110.5 485.2,110.1 C482.8,109.7 479.8,108.9 477.7,108.9 C475.6,108.9 473.9,109.0 472.7,110.1 C471.4,111.1 470.4,113.1 470.2,115.2 C470.0,117.3 470.6,120.2 471.4,122.7 C472.2,125.2 473.5,127.7 475.2,130.2 C476.9,132.7 479.8,135.6 481.5,137.7 C483.2,139.8 485.2,142.7 485.2,142.7 C485.2,142.7 482.8,141.6 481.0,139.5 C479.2,137.4 476.3,133.1 474.5,130.0 C472.7,126.9 471.8,123.5 470.0,121.0 C468.2,118.5 467.0,116.3 464.0,115.0 C461.0,113.7 456.0,112.8 452.0,113.0 C448.0,113.2 443.7,115.1 440.0,116.5 C436.3,117.9 434.6,120.4 430.0,121.5 C425.4,122.6 416.9,122.9 412.2,123.2 C407.5,123.5 405.2,123.6 401.7,123.2 C398.2,122.8 394.7,122.3 391.1,121.1 C387.5,119.9 383.5,116.8 380.3,116.0 C377.1,115.2 374.6,115.7 372.2,116.1 C369.8,116.5 368.1,117.2 365.9,118.2 C363.7,119.2 361.3,121.1 359.0,122.4 C356.7,123.7 354.4,125.0 352.2,126.1 C350.0,127.2 347.6,128.2 345.8,128.8 C344.0,129.4 341.1,129.8 341.1,129.8 C341.1,129.8 343.8,128.8 345.3,128.0 C346.8,127.2 348.6,126.2 350.0,125.1 C351.4,124.0 352.9,122.6 353.7,121.4 C354.5,120.2 354.9,118.8 354.8,117.7 C354.7,116.6 354.0,115.5 353.2,115.0 C352.4,114.5 352.1,114.1 350.0,114.5 C347.9,114.9 343.8,116.1 340.5,117.2 C337.2,118.3 333.2,120.1 330.0,121.0 C326.8,121.9 324.6,122.2 321.4,122.6 C318.2,123.0 314.4,123.2 310.8,123.2 C307.2,123.2 299.6,122.4 299.6,122.4 C299.6,122.4 304.6,122.1 308.2,121.6 C311.8,121.1 317.8,120.2 321.4,119.2 C325.0,118.2 326.8,116.9 330.0,115.5 C333.2,114.1 337.9,112.3 340.5,110.8 C343.1,109.3 344.2,108.2 345.3,106.6 C346.4,105.0 346.6,103.2 346.9,101.3 C347.2,99.4 347.3,96.9 346.9,95.0 C346.5,93.1 345.9,91.8 344.5,90.0 C343.1,88.2 341.0,86.2 338.5,84.5 C336.0,82.8 333.2,81.2 329.3,79.5 C325.4,77.8 319.6,75.8 314.8,74.2 C310.0,72.6 300.3,70.0 300.3,70.0Z" fill="url(#cg)"/><g clip-path="url(#cclip)"><path d="M336,83 C348,81 358,76 368,71.5 C378,69 392,68.5 402,71 C422,75 445,80 462,84.5 C472,89 471,101 465,108 C450,114 430,118 400,118 C375,117 356,112 348,106 C342,99 333,90 336,83Z" fill="#b5d1ed" filter="url(#soft3)"/><path d="M350,97 C352,82 390,76 425,78 C455,80 474,90 472,102 C470,112 430,114 400,113 C370,112 348,108 350,97Z" fill="url(#ig2)"/><path d="M345,112 C355,110 365,112 380,114 C400,116 420,112 440,110 C455,109 470,112 480,118 L480,135 L345,135Z" fill="url(#bg2)"/><rect x="440" y="60" width="60" height="90" fill="url(#rg)"/><path d="M446,83 C453,83 458,87 458.5,92 C455.5,88.5 451,85.5 446,83Z" fill="#e6f1fb" opacity="0.85"/><path d="M352,102 C358,104 364,108 366,111 C360,110 355,106 352,102Z" fill="#e6f1fb" opacity="0.8"/></g><path d="M300.3,70.0 C300.3,70.0 307.3,71.6 310.8,72.6 C314.3,73.6 317.9,74.8 321.4,75.9 C324.9,77.0 328.8,78.3 331.9,79.2 C335.0,80.1 337.4,80.9 339.9,81.2 C342.4,81.5 345.1,81.5 347.1,80.9 C349.1,80.4 350.6,79.3 351.7,77.9 C352.8,76.5 353.6,74.5 353.7,72.6 C353.8,70.7 353.2,68.5 352.4,66.7 C351.6,64.9 350.5,63.2 349.1,62.0 C347.7,60.8 343.8,59.4 343.8,59.4 C343.8,59.4 348.2,59.8 350.4,60.7 C352.6,61.6 354.8,63.3 357.0,64.7 C359.2,66.1 361.5,68.3 363.6,69.3 C365.7,70.3 367.7,71.0 369.5,70.9 C371.3,70.8 373.1,70.0 374.2,68.6 C375.3,67.2 376.1,65.0 376.1,62.7 C376.1,60.4 375.3,57.5 374.2,54.8 C373.1,52.0 371.1,48.5 369.5,46.2 C367.9,43.9 366.3,42.1 364.9,40.9 C363.5,39.7 361.0,39.0 361.0,39.0 C361.0,39.0 366.5,40.1 368.9,41.6 C371.3,43.1 373.5,45.8 375.5,48.2 C377.5,50.6 378.8,53.7 380.8,56.1 C382.8,58.5 384.9,60.8 387.3,62.7 C389.7,64.6 391.6,65.9 395.0,67.3 C398.4,68.7 403.3,69.9 407.5,71.3 C411.7,72.7 415.9,74.5 420.1,75.7 C424.3,77.0 428.4,78.0 432.6,78.8 C436.8,79.6 441.3,80.3 445.1,80.7 C448.9,81.1 451.9,81.3 455.2,81.1 C458.5,80.9 461.9,80.3 465.2,79.4 C468.5,78.5 471.9,76.9 475.2,75.7 C478.5,74.5 481.8,73.2 485.2,72.5 C488.6,71.8 495.9,71.3 495.9,71.3 C495.9,71.3 491.4,72.9 489.0,73.8 C486.6,74.7 483.7,75.6 481.5,76.9 C479.3,78.2 477.2,79.9 475.8,81.9 C474.4,83.9 473.6,86.6 473.3,88.8 C473.0,91.0 473.4,93.2 473.9,95.1 C474.4,97.0 475.0,98.4 476.5,100.1 C478.0,101.8 480.1,103.2 482.7,105.1 C485.3,107.0 492.1,111.4 492.1,111.4 C492.1,111.4 487.6,110.5 485.2,110.1 C482.8,109.7 479.8,108.9 477.7,108.9 C475.6,108.9 473.9,109.0 472.7,110.1 C471.4,111.1 470.4,113.1 470.2,115.2 C470.0,117.3 470.6,120.2 471.4,122.7 C472.2,125.2 473.5,127.7 475.2,130.2 C476.9,132.7 479.8,135.6 481.5,137.7 C483.2,139.8 485.2,142.7 485.2,142.7 C485.2,142.7 482.8,141.6 481.0,139.5 C479.2,137.4 476.3,133.1 474.5,130.0 C472.7,126.9 471.8,123.5 470.0,121.0 C468.2,118.5 467.0,116.3 464.0,115.0 C461.0,113.7 456.0,112.8 452.0,113.0 C448.0,113.2 443.7,115.1 440.0,116.5 C436.3,117.9 434.6,120.4 430.0,121.5 C425.4,122.6 416.9,122.9 412.2,123.2 C407.5,123.5 405.2,123.6 401.7,123.2 C398.2,122.8 394.7,122.3 391.1,121.1 C387.5,119.9 383.5,116.8 380.3,116.0 C377.1,115.2 374.6,115.7 372.2,116.1 C369.8,116.5 368.1,117.2 365.9,118.2 C363.7,119.2 361.3,121.1 359.0,122.4 C356.7,123.7 354.4,125.0 352.2,126.1 C350.0,127.2 347.6,128.2 345.8,128.8 C344.0,129.4 341.1,129.8 341.1,129.8 C341.1,129.8 343.8,128.8 345.3,128.0 C346.8,127.2 348.6,126.2 350.0,125.1 C351.4,124.0 352.9,122.6 353.7,121.4 C354.5,120.2 354.9,118.8 354.8,117.7 C354.7,116.6 354.0,115.5 353.2,115.0 C352.4,114.5 352.1,114.1 350.0,114.5 C347.9,114.9 343.8,116.1 340.5,117.2 C337.2,118.3 333.2,120.1 330.0,121.0 C326.8,121.9 324.6,122.2 321.4,122.6 C318.2,123.0 314.4,123.2 310.8,123.2 C307.2,123.2 299.6,122.4 299.6,122.4 C299.6,122.4 304.6,122.1 308.2,121.6 C311.8,121.1 317.8,120.2 321.4,119.2 C325.0,118.2 326.8,116.9 330.0,115.5 C333.2,114.1 337.9,112.3 340.5,110.8 C343.1,109.3 344.2,108.2 345.3,106.6 C346.4,105.0 346.6,103.2 346.9,101.3 C347.2,99.4 347.3,96.9 346.9,95.0 C346.5,93.1 345.9,91.8 344.5,90.0 C343.1,88.2 341.0,86.2 338.5,84.5 C336.0,82.8 333.2,81.2 329.3,79.5 C325.4,77.8 319.6,75.8 314.8,74.2 C310.0,72.6 300.3,70.0 300.3,70.0Z" fill="none" stroke="#5f8dc1" stroke-width="1.3"/><path d="M400,92.6 C400.5,88 404,85.5 409,85 C415,84.5 419,86.5 424,88.8 C429,91 435,91 439,92.8 C442,94.5 442.5,99 440,102.5 C436.5,106.5 430,107.5 424,107.2 C416,106.8 408,104.5 403.5,100.5 C401,98.3 399.8,95.5 400,92.6Z" fill="#6599ca"/><path d="M402,98 C406,103.5 414,105.5 424,105.5 C432,105.5 438,103 441.6,96.5 C442,100 440.5,103 438,105 C434,107.5 428,107.8 422,107.5 C413,107 405,104 402,98Z" fill="#3f7db8"/></g></g><polygon points="617.5,299.9 616.7,227.9 629.2,227.8 610.8,193.0 593.2,228.2 605.7,228.1 606.5,300.1" fill="#5b93cf"/><polygon points="405.6,325.0 335.4,303.7 339.0,291.7 300.3,298.8 328.6,326.2 332.2,314.2 402.4,335.6" fill="#5b93cf"/><polygon points="822.0,337.4 891.4,313.9 895.4,325.8 922.8,297.5 883.9,291.7 887.9,303.5 818.4,327.0" fill="#5b93cf"/><polygon points="488.0,461.3 445.9,520.0 435.8,512.7 430.0,551.6 465.0,533.7 454.9,526.4 497.0,467.7" fill="#5b93cf"/><polygon points="728.1,468.9 770.2,525.7 760.2,533.1 795.5,550.5 789.1,511.7 779.1,519.1 736.9,462.3" fill="#5b93cf"/><polygon points="506.3,84.6 516.8,84.6 516.8,74.2 527.9,94 516.8,113.9 516.8,103.6 506.3,103.6" fill="#5b93cf" stroke="#4674ab" stroke-width="1.2"/><polygon points="1051.6,268.3 1072.4,268.3 1072.4,278.7 1084.2,278.7 1062,288.3 1039.9,278.7 1051.6,278.7" fill="#5b93cf" stroke="#4a7ab3" stroke-width="1.1" stroke-linejoin="miter"/><polygon points="1051.6,358.9 1072.4,358.9 1072.4,369.29999999999995 1084.2,369.29999999999995 1062,378.9 1039.9,369.29999999999995 1051.6,369.29999999999995" fill="#5b93cf" stroke="#4a7ab3" stroke-width="1.1" stroke-linejoin="miter"/><polygon points="842,654.5 868,654.5 868,649.9 880.7,656.6 868,663.3 868,659 842,659" fill="#c8362b"/><path d="M532.73,28.65 A21.00,11.21 0 0 1 564.16,17.47 A16.58,8.86 0 0 1 590.43,15.31 A13.57,7.25 0 0 1 613.37,14.15 A15.10,8.04 0 0 1 639.76,17.93 A16.58,8.87 0 0 1 650.64,29.98 A21.07,11.25 0 0 1 636.92,47.96 A17.99,9.59 0 0 1 609.40,56.03 A21.00,11.24 0 0 1 571.85,59.01 A24.01,12.86 0 0 1 538.66,54.39 A13.56,7.22 0 0 1 527.18,42.29 A13.51,7.25 0 0 1 532.62,28.82Z" fill="#e2f0da" stroke="#6c706a" stroke-width="1.7"/><path d="M535.20,43.05 A13.51,7.25 0 0 1 527.32,42.08M542.15,53.69 A13.56,7.22 0 0 1 538.70,54.16M571.85,58.80 A21.00,11.24 0 0 1 569.77,56.68M610.24,53.51 A21.00,11.24 0 0 1 609.42,55.84M626.73,39.12 A17.99,9.59 0 0 1 636.84,47.83M650.58,29.85 A16.58,8.87 0 0 1 646.08,33.12M639.78,17.74 A15.10,8.04 0 0 1 640.01,19.29M611.03,15.95 A15.10,8.04 0 0 1 613.33,13.98M589.45,16.88 A13.57,7.25 0 0 1 590.57,15.19M564.14,17.46 A21.00,11.21 0 0 1 568.18,19.10M533.44,30.38 A21.00,11.21 0 0 1 532.74,28.65" fill="none" stroke="#6c706a" stroke-width="1.7"/><path d="M594.26,80.11 A19.16,8.34 0 0 1 622.93,71.79 A15.13,6.59 0 0 1 646.90,70.18 A12.38,5.39 0 0 1 667.82,69.32 A13.78,5.98 0 0 1 691.89,72.13 A15.13,6.60 0 0 1 701.82,81.10 A19.22,8.36 0 0 1 689.30,94.47 A16.41,7.14 0 0 1 664.20,100.47 A19.15,8.36 0 0 1 629.95,102.69 A21.90,9.56 0 0 1 599.66,99.25 A12.37,5.37 0 0 1 589.19,90.25 A12.33,5.39 0 0 1 594.16,80.23Z" fill="#d3e8c8" stroke="#6c706a" stroke-width="1.7"/><path d="M596.51,90.82 A12.33,5.39 0 0 1 589.33,90.10M602.85,98.73 A12.37,5.37 0 0 1 599.71,99.08M629.94,102.53 A19.15,8.36 0 0 1 628.05,100.96M664.97,98.60 A19.15,8.36 0 0 1 664.21,100.33M680.01,87.90 A16.41,7.14 0 0 1 689.23,94.37M701.77,81.00 A15.13,6.60 0 0 1 697.66,83.43M691.91,71.99 A13.78,5.98 0 0 1 692.13,73.14M665.68,70.66 A13.78,5.98 0 0 1 667.79,69.19M646.01,71.35 A12.38,5.39 0 0 1 647.02,70.09M622.91,71.78 A19.16,8.34 0 0 1 626.60,73.00M594.91,81.39 A19.16,8.34 0 0 1 594.26,80.11" fill="none" stroke="#6c706a" stroke-width="1.7"/><path d="M532.20,129.58 A20.08,9.93 0 0 1 562.24,119.67 A15.86,7.85 0 0 1 587.37,117.76 A12.98,6.43 0 0 1 609.30,116.73 A14.44,7.13 0 0 1 634.53,120.07 A15.86,7.86 0 0 1 644.93,130.75 A20.14,9.96 0 0 1 631.81,146.69 A17.20,8.50 0 0 1 605.50,153.83 A20.07,9.96 0 0 1 569.60,156.48 A22.95,11.39 0 0 1 537.86,152.38 A12.96,6.40 0 0 1 526.89,141.66 A12.92,6.43 0 0 1 532.09,129.72Z" fill="#b8d8a2" stroke="#6c706a" stroke-width="1.7"/><path d="M534.56,142.34 A12.92,6.43 0 0 1 527.02,141.48M541.20,151.76 A12.96,6.40 0 0 1 537.91,152.18M569.59,156.29 A20.07,9.96 0 0 1 567.61,154.41M606.31,151.60 A20.07,9.96 0 0 1 605.52,153.67M622.07,138.85 A17.20,8.50 0 0 1 631.74,146.57M644.87,130.64 A15.86,7.86 0 0 1 640.57,133.53M634.54,119.91 A14.44,7.13 0 0 1 634.77,121.28M607.05,118.32 A14.44,7.13 0 0 1 609.26,116.58M586.43,119.15 A12.98,6.43 0 0 1 587.50,117.65M562.23,119.66 A20.08,9.93 0 0 1 566.09,121.11M532.87,131.11 A20.08,9.93 0 0 1 532.20,129.58" fill="none" stroke="#6c706a" stroke-width="1.7"/><path d="M642.66,158.39 A21.39,11.23 0 0 1 674.67,147.18 A16.89,8.88 0 0 1 701.43,145.02 A13.83,7.26 0 0 1 724.80,143.86 A15.38,8.06 0 0 1 751.67,147.64 A16.89,8.89 0 0 1 762.76,159.72 A21.46,11.27 0 0 1 748.78,177.73 A18.32,9.61 0 0 1 720.75,185.81 A21.39,11.26 0 0 1 682.51,188.81 A24.45,12.88 0 0 1 648.70,184.17 A13.81,7.23 0 0 1 637.00,172.05 A13.76,7.26 0 0 1 642.55,158.55Z" fill="#5b8e44" stroke="#4f6a44" stroke-width="1.7"/><path d="M645.17,172.81 A13.76,7.26 0 0 1 637.15,171.84M652.25,183.47 A13.81,7.23 0 0 1 648.74,183.94M682.50,188.59 A21.39,11.26 0 0 1 680.39,186.47M721.61,183.29 A21.39,11.26 0 0 1 720.77,185.62M738.41,168.87 A18.32,9.61 0 0 1 748.70,177.59M762.70,159.59 A16.89,8.89 0 0 1 758.11,162.86M751.69,147.46 A15.38,8.06 0 0 1 751.93,149.00M722.41,145.66 A15.38,8.06 0 0 1 724.76,143.69M700.44,146.59 A13.83,7.26 0 0 1 701.57,144.90M674.65,147.17 A21.39,11.23 0 0 1 678.77,148.82M643.38,160.12 A21.39,11.23 0 0 1 642.66,158.39" fill="none" stroke="#4f6a44" stroke-width="1.7"/><rect x="765.1" y="43.3" width="47.7" height="71.7" rx="5" fill="#f9d46c" stroke="#b58f30" stroke-width="1.6"/><ellipse cx="789.2" cy="77.1" rx="8.9" ry="17" fill="#4a72b8" stroke="#2e4f8c" stroke-width="1.2"/><rect x="826.1" y="90" width="54.1" height="47.1" rx="5" fill="#f9d46c" stroke="#b58f30" stroke-width="1.6"/><ellipse cx="850.6" cy="114" rx="12.9" ry="8.7" fill="#4a72b8" stroke="#2e4f8c" stroke-width="1.2"/><ellipse cx="901.8" cy="67.9" rx="36" ry="22.7" fill="#f9d46c" stroke="#b58f30" stroke-width="1.6"/><ellipse cx="899.6" cy="67.9" rx="17.5" ry="7.8" fill="#4a72b8" stroke="#2e4f8c" stroke-width="1"/><rect x="1038.3" y="298.7" width="47.2" height="50.7" rx="6" fill="#d0e7c0" stroke="#a9cd90" stroke-width="1.6"/><ellipse cx="1063.3" cy="323.1" rx="7.9" ry="12.7" fill="#4a72b8" stroke="#2e4f8c" stroke-width="1.2"/><rect x="967" y="388" width="46.60000000000002" height="70.3" rx="6" fill="#f9d46c" stroke="#b58f30" stroke-width="1.6"/><ellipse cx="990.3" cy="421.2" rx="8.5" ry="17.4" fill="#4a72b8" stroke="#2e4f8c" stroke-width="1.2"/><rect x="1017.4" y="388" width="46.80000000000007" height="70.3" rx="6" fill="#f9d46c" stroke="#b58f30" stroke-width="1.6"/><ellipse cx="1040.8" cy="421.2" rx="8.5" ry="17.4" fill="#4a72b8" stroke="#2e4f8c" stroke-width="1.2"/><rect x="1068" y="388" width="47.90000000000009" height="70.3" rx="6" fill="#d0e7c0" stroke="#a9cd90" stroke-width="1.6"/><ellipse cx="1091.95" cy="421.2" rx="8.5" ry="17.4" fill="#4a72b8" stroke="#2e4f8c" stroke-width="1.2"/><rect x="1119.7" y="388" width="45.899999999999864" height="70.3" rx="6" fill="#f9d46c" stroke="#b58f30" stroke-width="1.6"/><ellipse cx="1147.5" cy="421.2" rx="8.5" ry="17.4" fill="#4a72b8" stroke="#2e4f8c" stroke-width="1.2"/><rect x="893.5" y="581.5" width="61.4" height="105" rx="7" fill="#e3f0d9" stroke="#b9d4a8" stroke-width="1.6"/><ellipse cx="923.4" cy="653.4" rx="10.5" ry="15.6" fill="#4a72b8" stroke="#2e4f8c" stroke-width="1.2"/><rect x="958.8" y="581.5" width="61.4" height="105" rx="7" fill="#f9d46c" stroke="#b58f30" stroke-width="1.6"/><ellipse cx="990" cy="653.4" rx="9.8" ry="15.2" fill="#4a72b8" stroke="#2e4f8c" stroke-width="1.2"/><rect x="1024.2" y="581.5" width="61.3" height="105" rx="7" fill="#f9d46c" stroke="#b58f30" stroke-width="1.6"/><ellipse cx="1055.7" cy="653.4" rx="9.8" ry="15.2" fill="#4a72b8" stroke="#2e4f8c" stroke-width="1.2"/><radialGradient id="dg" cx="0.4" cy="0.35" r="0.7"><stop offset="0" stop-color="#93acd0"/><stop offset="0.5" stop-color="#5f80b5"/><stop offset="1" stop-color="#3a5b98"/></radialGradient><circle cx="902.8" cy="561.2" r="3.8" fill="url(#dg)"/><circle cx="881.8" cy="578" r="3.8" fill="url(#dg)"/><circle cx="844" cy="595" r="3.8" fill="url(#dg)"/><circle cx="872.5" cy="597.8" r="3.8" fill="url(#dg)"/><circle cx="842.2" cy="618.1" r="3.8" fill="url(#dg)"/><circle cx="941.3" cy="603.2" r="3.8" fill="url(#dg)"/><circle cx="911" cy="610.7" r="3.8" fill="url(#dg)"/><circle cx="899.3" cy="630" r="3.8" fill="url(#dg)"/><circle cx="860.8" cy="637.5" r="3.8" fill="url(#dg)"/><circle cx="856.9" cy="642.6" r="3.8" fill="url(#dg)"/><circle cx="907" cy="662" r="3.8" fill="url(#dg)"/><circle cx="855.7" cy="678.8" r="3.8" fill="url(#dg)"/><circle cx="777.2" cy="678.6" r="3.8" fill="url(#dg)"/><circle cx="789.6" cy="685.9" r="3.8" fill="url(#dg)"/><circle cx="766.6" cy="691.5" r="3.8" fill="url(#dg)"/><rect x="352.9" y="648.6" width="43.5" height="74.7" rx="6" fill="#f9d46c" stroke="#b58f30" stroke-width="1.6"/><ellipse cx="372.4" cy="700.3" rx="7.5" ry="11" fill="#4a72b8" stroke="#2e4f8c" stroke-width="1.2"/><rect x="398.7" y="648.6" width="43.5" height="74.7" rx="6" fill="#a9d18e" stroke="#5a8f45" stroke-width="1.6"/><ellipse cx="421.1" cy="700.3" rx="7.5" ry="11" fill="#4a72b8" stroke="#2e4f8c" stroke-width="1.2"/><rect x="444.6" y="648.6" width="43.4" height="74.7" rx="6" fill="#f9d46c" stroke="#b58f30" stroke-width="1.6"/><ellipse cx="466.9" cy="700.3" rx="7.5" ry="11" fill="#4a72b8" stroke="#2e4f8c" stroke-width="1.2"/><g fill="#fffbe6" stroke="#c9a94a" stroke-width="1"><rect x="-7" y="-4" width="14" height="8" rx="3.5" transform="translate(411.7,676.8) rotate(50)"/><rect x="-7" y="-4" width="14" height="8" rx="3.5" transform="translate(431.2,672.8) rotate(-65)"/><rect x="-7" y="-4" width="14" height="8" rx="3.5" transform="translate(429.8,715.6) rotate(-15)"/></g><rect x="411.5" y="645" width="16.5" height="4" fill="#4d8098"/><rect x="406.1" y="621.9" width="26.8" height="24.5" rx="1.5" fill="#2f9c4b" stroke="#33706a" stroke-width="1"/><rect x="409.8" y="616.8" width="5" height="5" fill="#8fcf8f"/><rect x="421.8" y="616.8" width="4.6" height="5" fill="#8fcf8f"/><rect x="414.8" y="616.8" width="7" height="5" fill="#3d7d5c"/><polygon points="409.5,622.5 428.5,622.5 419,641" fill="#2a6b47" opacity="0.85"/><rect x="416" y="599" width="5.5" height="17.5" fill="#0a0a0a"/><rect x="414.9" y="641.3" width="8.3" height="11.5" rx="2.5" fill="#fffaf0" stroke="#d9b85a" stroke-width="0.8"/><text transform="translate(784.16,158.90) scale(1.0393,1)" font-family="Liberation Sans, sans-serif" font-weight="bold" font-size="23" fill="#000">Target cells</text><text transform="translate(632.88,253.00) scale(1.0660,1)" font-family="Liberation Sans, sans-serif" font-weight="bold" font-size="23" fill="#000">Paracrine</text><text transform="translate(633.90,281.00) scale(1.0187,1)" font-family="Liberation Sans, sans-serif" font-weight="bold" font-size="23" fill="#000">activity</text><text transform="translate(323.04,359.20) scale(1.0402,1)" font-family="Liberation Sans, sans-serif" font-weight="bold" font-size="23" fill="#000">Cell-cell</text><text transform="translate(323.02,387.80) scale(1.0683,1)" font-family="Liberation Sans, sans-serif" font-weight="bold" font-size="23" fill="#000">contact</text><text transform="translate(14.10,391.70) scale(1.0547,1)" font-family="Liberation Sans, sans-serif" font-weight="bold" font-size="23" fill="#000">Immune cells/</text><text transform="translate(-0.40,419.20) scale(1.0545,1)" font-family="Liberation Sans, sans-serif" font-weight="bold" font-size="23" fill="#000">Endothelial cells</text><text transform="translate(819.60,370.00) scale(1.0561,1)" font-family="Liberation Sans, sans-serif" font-weight="bold" font-size="23" fill="#000">MSC integration</text><text transform="translate(623.67,470.00) scale(1.0723,1)" font-family="Liberation Sans, sans-serif" font-weight="bold" font-size="23" fill="#000">MSCs</text><text transform="translate(293.04,500.50) scale(1.1115,1)" font-family="Liberation Sans, sans-serif" font-weight="bold" font-size="22" fill="#000">Mitochondrial</text><text transform="translate(294.51,529.00) scale(1.0872,1)" font-family="Liberation Sans, sans-serif" font-weight="bold" font-size="22" fill="#000">transfer</text><text transform="translate(770.31,501.90) scale(1.0713,1)" font-family="Liberation Sans, sans-serif" font-weight="bold" font-size="22.5" fill="#000">Extracellular</text><text transform="translate(824.26,530.20) scale(1.0486,1)" font-family="Liberation Sans, sans-serif" font-weight="bold" font-size="22.5" fill="#000">vesicles</text><text transform="translate(1001.76,484.00) scale(1.0439,1)" font-family="Liberation Sans, sans-serif" font-weight="bold" font-size="23" fill="#000">Target tissue</text><text transform="translate(357.86,751.90) scale(1.0461,1)" font-family="Liberation Sans, sans-serif" font-weight="bold" font-size="23" fill="#000">Target cells</text><text transform="translate(932.66,709.50) scale(1.0449,1)" font-family="Liberation Sans, sans-serif" font-weight="bold" font-size="23" fill="#000">Target cells</text><text transform="translate(1084.81,279.70) scale(1.0755,1)" font-family="Liberation Sans, sans-serif" font-weight="bold" font-size="15.8" fill="#000">Differentiation</text><text transform="translate(1084.78,370.00) scale(1.1073,1)" font-family="Liberation Sans, sans-serif" font-weight="bold" font-size="15.8" fill="#000">Integration</text><text transform="translate(553.47,28.60) scale(1.1887,1)" font-family="Liberation Sans, sans-serif" font-weight="bold" font-size="14.8" fill="#000">Immuno</text><text transform="translate(541.21,47.90) scale(1.1513,1)" font-family="Liberation Sans, sans-serif" font-weight="bold" font-size="14.8" fill="#000">modulatory</text><text transform="translate(596.98,88.60) scale(1.1299,1)" font-family="Liberation Sans, sans-serif" font-weight="bold" font-size="15.2" fill="#000">Angiogenic</text><text transform="translate(533.69,136.40) scale(1.0952,1)" font-family="Liberation Sans, sans-serif" font-weight="bold" font-size="15.5" fill="#000">Antiapoptotic</text><text transform="translate(643.69,168.00) scale(1.0628,1)" font-family="Liberation Sans, sans-serif" font-weight="bold" font-size="16" fill="#000">Antioxidative</text>
</svg></body></html>
